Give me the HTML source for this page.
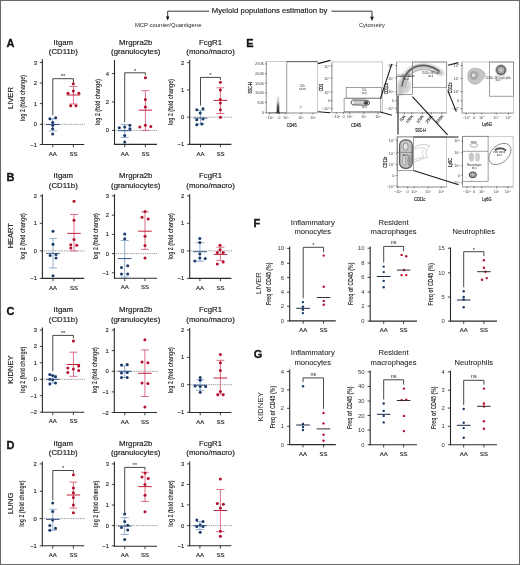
<!DOCTYPE html>
<html><head><meta charset="utf-8"><style>
html,body{margin:0;padding:0;background:#fff;}
svg{display:block;will-change:transform;font-family:"Liberation Sans", sans-serif;}
</style></head><body>
<svg width="520" height="565" viewBox="0 0 520 565">
<defs>
<filter id="b03" x="-50%" y="-50%" width="200%" height="200%"><feGaussianBlur stdDeviation="0.3"/></filter>
<filter id="b04" x="-50%" y="-50%" width="200%" height="200%"><feGaussianBlur stdDeviation="0.4"/></filter>
<filter id="b05" x="-50%" y="-50%" width="200%" height="200%"><feGaussianBlur stdDeviation="0.5"/></filter>
<filter id="b06" x="-50%" y="-50%" width="200%" height="200%"><feGaussianBlur stdDeviation="0.6"/></filter>
<filter id="b08" x="-50%" y="-50%" width="200%" height="200%"><feGaussianBlur stdDeviation="0.8"/></filter>
<filter id="b10" x="-50%" y="-50%" width="200%" height="200%"><feGaussianBlur stdDeviation="1.0"/></filter>
<linearGradient id="gstreak" x1="0" y1="0" x2="0" y2="1">
<stop offset="0" stop-color="#f0f0f0"/><stop offset="0.35" stop-color="#c8c8c8"/><stop offset="0.6" stop-color="#5a5a5a"/><stop offset="1" stop-color="#1e1e1e"/>
</linearGradient>
</defs>
<rect x="0" y="0" width="520" height="565" fill="#fff"/>
<line x1="42.40" y1="124.30" x2="85.20" y2="124.30" stroke="#6a6a6a" stroke-width="0.8" stroke-dasharray="0.9,0.9"/>
<line x1="42.40" y1="59.20" x2="42.40" y2="145.00" stroke="#2a2a2a" stroke-width="1.1"/>
<line x1="41.90" y1="144.50" x2="84.20" y2="144.50" stroke="#2a2a2a" stroke-width="1.1"/>
<line x1="39.80" y1="62.50" x2="42.40" y2="62.50" stroke="#2a2a2a" stroke-width="0.9"/>
<text x="36.90" y="64.50" font-size="5.8" text-anchor="end" fill="#222" font-weight="normal" stroke="#222" stroke-width="0.12">3</text>
<line x1="39.80" y1="83.00" x2="42.40" y2="83.00" stroke="#2a2a2a" stroke-width="0.9"/>
<text x="36.90" y="85.00" font-size="5.8" text-anchor="end" fill="#222" font-weight="normal" stroke="#222" stroke-width="0.12">2</text>
<line x1="39.80" y1="103.60" x2="42.40" y2="103.60" stroke="#2a2a2a" stroke-width="0.9"/>
<text x="36.90" y="105.60" font-size="5.8" text-anchor="end" fill="#222" font-weight="normal" stroke="#222" stroke-width="0.12">1</text>
<line x1="39.80" y1="124.30" x2="42.40" y2="124.30" stroke="#2a2a2a" stroke-width="0.9"/>
<text x="36.90" y="126.30" font-size="5.8" text-anchor="end" fill="#222" font-weight="normal" stroke="#222" stroke-width="0.12">0</text>
<line x1="39.80" y1="144.50" x2="42.40" y2="144.50" stroke="#2a2a2a" stroke-width="0.9"/>
<text x="36.90" y="146.50" font-size="5.8" text-anchor="end" fill="#222" font-weight="normal" stroke="#222" stroke-width="0.12">−1</text>
<line x1="52.80" y1="144.50" x2="52.80" y2="147.30" stroke="#2a2a2a" stroke-width="0.9"/>
<text x="52.80" y="155.60" font-size="6.0" text-anchor="middle" fill="#222" font-weight="normal" stroke="#222" stroke-width="0.15">AA</text>
<line x1="73.40" y1="144.50" x2="73.40" y2="147.30" stroke="#2a2a2a" stroke-width="0.9"/>
<text x="73.40" y="155.60" font-size="6.0" text-anchor="middle" fill="#222" font-weight="normal" stroke="#222" stroke-width="0.15">SS</text>
<line x1="52.80" y1="118.80" x2="52.80" y2="130.90" stroke="#88a5cb" stroke-width="0.9"/>
<line x1="48.80" y1="118.80" x2="56.80" y2="118.80" stroke="#88a5cb" stroke-width="0.9"/>
<line x1="48.80" y1="130.90" x2="56.80" y2="130.90" stroke="#88a5cb" stroke-width="0.9"/>
<circle cx="49.90" cy="118.80" r="1.5" fill="#1a3966"/>
<circle cx="55.70" cy="117.80" r="1.5" fill="#1a3966"/>
<circle cx="52.70" cy="122.60" r="1.5" fill="#1a3966"/>
<circle cx="52.70" cy="125.20" r="1.5" fill="#1a3966"/>
<circle cx="52.70" cy="128.80" r="1.5" fill="#1a3966"/>
<circle cx="52.70" cy="134.10" r="1.5" fill="#1a3966"/>
<line x1="46.00" y1="124.50" x2="59.60" y2="124.50" stroke="#37598a" stroke-width="1.0"/>
<line x1="73.40" y1="86.40" x2="73.40" y2="104.00" stroke="#d6607a" stroke-width="0.9"/>
<line x1="69.40" y1="86.40" x2="77.40" y2="86.40" stroke="#d6607a" stroke-width="0.9"/>
<line x1="69.40" y1="104.00" x2="77.40" y2="104.00" stroke="#d6607a" stroke-width="0.9"/>
<circle cx="73.30" cy="83.70" r="1.5" fill="#b2102e"/>
<circle cx="73.30" cy="91.10" r="1.5" fill="#b2102e"/>
<circle cx="68.00" cy="93.30" r="1.5" fill="#b2102e"/>
<circle cx="78.90" cy="93.30" r="1.5" fill="#b2102e"/>
<circle cx="70.70" cy="105.70" r="1.5" fill="#b2102e"/>
<circle cx="76.00" cy="105.70" r="1.5" fill="#b2102e"/>
<line x1="66.60" y1="95.00" x2="80.20" y2="95.00" stroke="#c0233d" stroke-width="1.0"/>
<polyline points="52.80,115.30 52.80,78.70 73.40,78.70 73.40,82.60" fill="none" stroke="#333" stroke-width="0.9"/>
<text x="63.10" y="78.40" font-size="6.0" text-anchor="middle" fill="#222" font-weight="normal">**</text>
<text x="63.30" y="44.50" font-size="7.8" text-anchor="middle" fill="#222" font-weight="normal" stroke="#222" stroke-width="0.18">Itgam</text>
<text x="63.30" y="54.30" font-size="7.8" text-anchor="middle" fill="#222" font-weight="normal" stroke="#222" stroke-width="0.18">(CD11b)</text>
<text transform="translate(24.50,98.20) rotate(-90)" x="0" y="0" font-size="6.5" text-anchor="middle" fill="#333" font-weight="bold" textLength="46.2" lengthAdjust="spacingAndGlyphs">log 2 (fold change)</text>
<line x1="114.50" y1="130.40" x2="158.00" y2="130.40" stroke="#6a6a6a" stroke-width="0.8" stroke-dasharray="0.9,0.9"/>
<line x1="114.50" y1="60.00" x2="114.50" y2="144.90" stroke="#2a2a2a" stroke-width="1.1"/>
<line x1="114.00" y1="144.40" x2="157.00" y2="144.40" stroke="#2a2a2a" stroke-width="1.1"/>
<line x1="111.90" y1="73.50" x2="114.50" y2="73.50" stroke="#2a2a2a" stroke-width="0.9"/>
<text x="109.00" y="75.50" font-size="5.8" text-anchor="end" fill="#222" font-weight="normal" stroke="#222" stroke-width="0.12">4</text>
<line x1="111.90" y1="102.00" x2="114.50" y2="102.00" stroke="#2a2a2a" stroke-width="0.9"/>
<text x="109.00" y="104.00" font-size="5.8" text-anchor="end" fill="#222" font-weight="normal" stroke="#222" stroke-width="0.12">2</text>
<line x1="111.90" y1="130.40" x2="114.50" y2="130.40" stroke="#2a2a2a" stroke-width="0.9"/>
<text x="109.00" y="132.40" font-size="5.8" text-anchor="end" fill="#222" font-weight="normal" stroke="#222" stroke-width="0.12">0</text>
<line x1="124.70" y1="144.40" x2="124.70" y2="147.20" stroke="#2a2a2a" stroke-width="0.9"/>
<text x="124.70" y="155.50" font-size="6.0" text-anchor="middle" fill="#222" font-weight="normal" stroke="#222" stroke-width="0.15">AA</text>
<line x1="145.40" y1="144.40" x2="145.40" y2="147.20" stroke="#2a2a2a" stroke-width="0.9"/>
<text x="145.40" y="155.50" font-size="6.0" text-anchor="middle" fill="#222" font-weight="normal" stroke="#222" stroke-width="0.15">SS</text>
<line x1="124.70" y1="124.50" x2="124.70" y2="137.40" stroke="#88a5cb" stroke-width="0.9"/>
<line x1="120.70" y1="124.50" x2="128.70" y2="124.50" stroke="#88a5cb" stroke-width="0.9"/>
<line x1="120.70" y1="137.40" x2="128.70" y2="137.40" stroke="#88a5cb" stroke-width="0.9"/>
<circle cx="119.30" cy="127.80" r="1.5" fill="#1a3966"/>
<circle cx="124.70" cy="127.00" r="1.5" fill="#1a3966"/>
<circle cx="129.90" cy="125.30" r="1.5" fill="#1a3966"/>
<circle cx="129.90" cy="128.70" r="1.5" fill="#1a3966"/>
<circle cx="124.70" cy="135.40" r="1.5" fill="#1a3966"/>
<circle cx="124.70" cy="142.10" r="1.5" fill="#1a3966"/>
<line x1="117.90" y1="130.70" x2="131.50" y2="130.70" stroke="#37598a" stroke-width="1.0"/>
<line x1="145.40" y1="90.70" x2="145.40" y2="130.40" stroke="#d6607a" stroke-width="0.9"/>
<line x1="141.40" y1="90.70" x2="149.40" y2="90.70" stroke="#d6607a" stroke-width="0.9"/>
<line x1="141.40" y1="130.40" x2="149.40" y2="130.40" stroke="#d6607a" stroke-width="0.9"/>
<circle cx="145.40" cy="77.70" r="1.5" fill="#b2102e"/>
<circle cx="145.40" cy="99.60" r="1.5" fill="#b2102e"/>
<circle cx="145.40" cy="107.10" r="1.5" fill="#b2102e"/>
<circle cx="139.80" cy="127.00" r="1.5" fill="#b2102e"/>
<circle cx="145.40" cy="125.30" r="1.5" fill="#b2102e"/>
<circle cx="150.80" cy="126.50" r="1.5" fill="#b2102e"/>
<line x1="138.60" y1="110.20" x2="152.20" y2="110.20" stroke="#c0233d" stroke-width="1.0"/>
<polyline points="124.70,122.30 124.70,72.80 145.40,72.80 145.40,75.50" fill="none" stroke="#333" stroke-width="0.9"/>
<text x="135.05" y="72.50" font-size="6.0" text-anchor="middle" fill="#222" font-weight="normal">*</text>
<text x="135.75" y="44.50" font-size="7.8" text-anchor="middle" fill="#222" font-weight="normal" stroke="#222" stroke-width="0.18">Mrgpra2b</text>
<text x="135.75" y="54.30" font-size="7.8" text-anchor="middle" fill="#222" font-weight="normal" stroke="#222" stroke-width="0.18">(granulocytes)</text>
<text transform="translate(100.40,102.20) rotate(-90)" x="0" y="0" font-size="6.5" text-anchor="middle" fill="#333" font-weight="bold" textLength="46.2" lengthAdjust="spacingAndGlyphs">log 2 (fold change)</text>
<line x1="189.70" y1="117.20" x2="232.40" y2="117.20" stroke="#6a6a6a" stroke-width="0.8" stroke-dasharray="0.9,0.9"/>
<line x1="189.70" y1="60.00" x2="189.70" y2="144.90" stroke="#2a2a2a" stroke-width="1.1"/>
<line x1="189.20" y1="144.40" x2="231.40" y2="144.40" stroke="#2a2a2a" stroke-width="1.1"/>
<line x1="187.10" y1="62.60" x2="189.70" y2="62.60" stroke="#2a2a2a" stroke-width="0.9"/>
<text x="184.20" y="64.60" font-size="5.8" text-anchor="end" fill="#222" font-weight="normal" stroke="#222" stroke-width="0.12">2</text>
<line x1="187.10" y1="89.90" x2="189.70" y2="89.90" stroke="#2a2a2a" stroke-width="0.9"/>
<text x="184.20" y="91.90" font-size="5.8" text-anchor="end" fill="#222" font-weight="normal" stroke="#222" stroke-width="0.12">1</text>
<line x1="187.10" y1="117.20" x2="189.70" y2="117.20" stroke="#2a2a2a" stroke-width="0.9"/>
<text x="184.20" y="119.20" font-size="5.8" text-anchor="end" fill="#222" font-weight="normal" stroke="#222" stroke-width="0.12">0</text>
<line x1="187.10" y1="144.40" x2="189.70" y2="144.40" stroke="#2a2a2a" stroke-width="0.9"/>
<text x="184.20" y="146.40" font-size="5.8" text-anchor="end" fill="#222" font-weight="normal" stroke="#222" stroke-width="0.12">−1</text>
<line x1="200.50" y1="144.40" x2="200.50" y2="147.20" stroke="#2a2a2a" stroke-width="0.9"/>
<text x="200.50" y="155.50" font-size="6.0" text-anchor="middle" fill="#222" font-weight="normal" stroke="#222" stroke-width="0.15">AA</text>
<line x1="220.40" y1="144.40" x2="220.40" y2="147.20" stroke="#2a2a2a" stroke-width="0.9"/>
<text x="220.40" y="155.50" font-size="6.0" text-anchor="middle" fill="#222" font-weight="normal" stroke="#222" stroke-width="0.15">SS</text>
<line x1="200.50" y1="110.50" x2="200.50" y2="124.00" stroke="#88a5cb" stroke-width="0.9"/>
<line x1="196.50" y1="110.50" x2="204.50" y2="110.50" stroke="#88a5cb" stroke-width="0.9"/>
<line x1="196.50" y1="124.00" x2="204.50" y2="124.00" stroke="#88a5cb" stroke-width="0.9"/>
<circle cx="196.80" cy="109.70" r="1.5" fill="#1a3966"/>
<circle cx="203.00" cy="108.80" r="1.5" fill="#1a3966"/>
<circle cx="200.20" cy="113.00" r="1.5" fill="#1a3966"/>
<circle cx="196.80" cy="119.80" r="1.5" fill="#1a3966"/>
<circle cx="203.00" cy="118.90" r="1.5" fill="#1a3966"/>
<circle cx="196.80" cy="124.80" r="1.5" fill="#1a3966"/>
<circle cx="201.90" cy="124.00" r="1.5" fill="#1a3966"/>
<line x1="193.70" y1="118.10" x2="207.30" y2="118.10" stroke="#37598a" stroke-width="1.0"/>
<line x1="220.40" y1="87.80" x2="220.40" y2="113.50" stroke="#d6607a" stroke-width="0.9"/>
<line x1="216.40" y1="87.80" x2="224.40" y2="87.80" stroke="#d6607a" stroke-width="0.9"/>
<line x1="216.40" y1="113.50" x2="224.40" y2="113.50" stroke="#d6607a" stroke-width="0.9"/>
<circle cx="220.40" cy="82.30" r="1.5" fill="#b2102e"/>
<circle cx="220.40" cy="90.00" r="1.5" fill="#b2102e"/>
<circle cx="220.40" cy="99.60" r="1.5" fill="#b2102e"/>
<circle cx="220.40" cy="103.00" r="1.5" fill="#b2102e"/>
<circle cx="220.40" cy="109.70" r="1.5" fill="#b2102e"/>
<circle cx="220.40" cy="117.20" r="1.5" fill="#b2102e"/>
<line x1="213.60" y1="100.40" x2="227.20" y2="100.40" stroke="#c0233d" stroke-width="1.0"/>
<polyline points="200.50,105.50 200.50,77.40 220.40,77.40 220.40,79.90" fill="none" stroke="#333" stroke-width="0.9"/>
<text x="210.45" y="77.10" font-size="6.0" text-anchor="middle" fill="#222" font-weight="normal">*</text>
<text x="210.55" y="44.50" font-size="7.8" text-anchor="middle" fill="#222" font-weight="normal" stroke="#222" stroke-width="0.18">FcgR1</text>
<text x="210.55" y="54.30" font-size="7.8" text-anchor="middle" fill="#222" font-weight="normal" stroke="#222" stroke-width="0.18">(mono/macro)</text>
<text transform="translate(172.80,102.20) rotate(-90)" x="0" y="0" font-size="6.5" text-anchor="middle" fill="#333" font-weight="bold" textLength="46.2" lengthAdjust="spacingAndGlyphs">log 2 (fold change)</text>
<line x1="42.40" y1="250.90" x2="85.20" y2="250.90" stroke="#6a6a6a" stroke-width="0.8" stroke-dasharray="0.9,0.9"/>
<line x1="42.40" y1="194.20" x2="42.40" y2="278.90" stroke="#2a2a2a" stroke-width="1.1"/>
<line x1="41.90" y1="278.40" x2="84.20" y2="278.40" stroke="#2a2a2a" stroke-width="1.1"/>
<line x1="39.80" y1="195.90" x2="42.40" y2="195.90" stroke="#2a2a2a" stroke-width="0.9"/>
<text x="36.90" y="197.90" font-size="5.8" text-anchor="end" fill="#222" font-weight="normal" stroke="#222" stroke-width="0.12">2</text>
<line x1="39.80" y1="223.30" x2="42.40" y2="223.30" stroke="#2a2a2a" stroke-width="0.9"/>
<text x="36.90" y="225.30" font-size="5.8" text-anchor="end" fill="#222" font-weight="normal" stroke="#222" stroke-width="0.12">1</text>
<line x1="39.80" y1="250.90" x2="42.40" y2="250.90" stroke="#2a2a2a" stroke-width="0.9"/>
<text x="36.90" y="252.90" font-size="5.8" text-anchor="end" fill="#222" font-weight="normal" stroke="#222" stroke-width="0.12">0</text>
<line x1="39.80" y1="278.40" x2="42.40" y2="278.40" stroke="#2a2a2a" stroke-width="0.9"/>
<text x="36.90" y="280.40" font-size="5.8" text-anchor="end" fill="#222" font-weight="normal" stroke="#222" stroke-width="0.12">−1</text>
<line x1="53.00" y1="278.40" x2="53.00" y2="281.20" stroke="#2a2a2a" stroke-width="0.9"/>
<text x="53.00" y="289.50" font-size="6.0" text-anchor="middle" fill="#222" font-weight="normal" stroke="#222" stroke-width="0.15">AA</text>
<line x1="74.00" y1="278.40" x2="74.00" y2="281.20" stroke="#2a2a2a" stroke-width="0.9"/>
<text x="74.00" y="289.50" font-size="6.0" text-anchor="middle" fill="#222" font-weight="normal" stroke="#222" stroke-width="0.15">SS</text>
<line x1="53.00" y1="238.40" x2="53.00" y2="267.90" stroke="#88a5cb" stroke-width="0.9"/>
<line x1="49.00" y1="238.40" x2="57.00" y2="238.40" stroke="#88a5cb" stroke-width="0.9"/>
<line x1="49.00" y1="267.90" x2="57.00" y2="267.90" stroke="#88a5cb" stroke-width="0.9"/>
<circle cx="53.00" cy="231.20" r="1.5" fill="#1a3966"/>
<circle cx="53.00" cy="244.20" r="1.5" fill="#1a3966"/>
<circle cx="50.10" cy="255.60" r="1.5" fill="#1a3966"/>
<circle cx="56.00" cy="254.40" r="1.5" fill="#1a3966"/>
<circle cx="56.00" cy="258.10" r="1.5" fill="#1a3966"/>
<circle cx="53.00" cy="275.80" r="1.5" fill="#1a3966"/>
<line x1="46.20" y1="253.40" x2="59.80" y2="253.40" stroke="#37598a" stroke-width="1.0"/>
<line x1="74.00" y1="214.40" x2="74.00" y2="250.90" stroke="#d6607a" stroke-width="0.9"/>
<line x1="70.00" y1="214.40" x2="78.00" y2="214.40" stroke="#d6607a" stroke-width="0.9"/>
<line x1="70.00" y1="250.90" x2="78.00" y2="250.90" stroke="#d6607a" stroke-width="0.9"/>
<circle cx="74.00" cy="201.30" r="1.5" fill="#b2102e"/>
<circle cx="74.00" cy="220.30" r="1.5" fill="#b2102e"/>
<circle cx="74.00" cy="239.60" r="1.5" fill="#b2102e"/>
<circle cx="70.80" cy="244.70" r="1.5" fill="#b2102e"/>
<circle cx="76.70" cy="245.20" r="1.5" fill="#b2102e"/>
<circle cx="70.80" cy="248.00" r="1.5" fill="#b2102e"/>
<line x1="67.20" y1="233.40" x2="80.80" y2="233.40" stroke="#c0233d" stroke-width="1.0"/>
<text x="63.30" y="178.30" font-size="7.8" text-anchor="middle" fill="#222" font-weight="normal" stroke="#222" stroke-width="0.18">Itgam</text>
<text x="63.30" y="188.10" font-size="7.8" text-anchor="middle" fill="#222" font-weight="normal" stroke="#222" stroke-width="0.18">(CD11b)</text>
<text transform="translate(24.50,236.30) rotate(-90)" x="0" y="0" font-size="6.5" text-anchor="middle" fill="#333" font-weight="bold" textLength="46.2" lengthAdjust="spacingAndGlyphs">log 2 (fold change)</text>
<line x1="114.50" y1="253.60" x2="158.00" y2="253.60" stroke="#6a6a6a" stroke-width="0.8" stroke-dasharray="0.9,0.9"/>
<line x1="114.50" y1="194.20" x2="114.50" y2="278.80" stroke="#2a2a2a" stroke-width="1.1"/>
<line x1="114.00" y1="278.30" x2="157.00" y2="278.30" stroke="#2a2a2a" stroke-width="1.1"/>
<line x1="111.90" y1="195.90" x2="114.50" y2="195.90" stroke="#2a2a2a" stroke-width="0.9"/>
<text x="109.00" y="197.90" font-size="5.8" text-anchor="end" fill="#222" font-weight="normal" stroke="#222" stroke-width="0.12">3</text>
<line x1="111.90" y1="215.20" x2="114.50" y2="215.20" stroke="#2a2a2a" stroke-width="0.9"/>
<text x="109.00" y="217.20" font-size="5.8" text-anchor="end" fill="#222" font-weight="normal" stroke="#222" stroke-width="0.12">2</text>
<line x1="111.90" y1="234.40" x2="114.50" y2="234.40" stroke="#2a2a2a" stroke-width="0.9"/>
<text x="109.00" y="236.40" font-size="5.8" text-anchor="end" fill="#222" font-weight="normal" stroke="#222" stroke-width="0.12">1</text>
<line x1="111.90" y1="253.60" x2="114.50" y2="253.60" stroke="#2a2a2a" stroke-width="0.9"/>
<text x="109.00" y="255.60" font-size="5.8" text-anchor="end" fill="#222" font-weight="normal" stroke="#222" stroke-width="0.12">0</text>
<line x1="111.90" y1="272.80" x2="114.50" y2="272.80" stroke="#2a2a2a" stroke-width="0.9"/>
<text x="109.00" y="274.80" font-size="5.8" text-anchor="end" fill="#222" font-weight="normal" stroke="#222" stroke-width="0.12">−1</text>
<line x1="124.70" y1="278.30" x2="124.70" y2="281.10" stroke="#2a2a2a" stroke-width="0.9"/>
<text x="124.70" y="289.40" font-size="6.0" text-anchor="middle" fill="#222" font-weight="normal" stroke="#222" stroke-width="0.15">AA</text>
<line x1="145.00" y1="278.30" x2="145.00" y2="281.10" stroke="#2a2a2a" stroke-width="0.9"/>
<text x="145.00" y="289.40" font-size="6.0" text-anchor="middle" fill="#222" font-weight="normal" stroke="#222" stroke-width="0.15">SS</text>
<line x1="124.70" y1="240.50" x2="124.70" y2="277.10" stroke="#88a5cb" stroke-width="0.9"/>
<line x1="120.70" y1="240.50" x2="128.70" y2="240.50" stroke="#88a5cb" stroke-width="0.9"/>
<line x1="120.70" y1="277.10" x2="128.70" y2="277.10" stroke="#88a5cb" stroke-width="0.9"/>
<circle cx="124.70" cy="234.10" r="1.5" fill="#1a3966"/>
<circle cx="124.70" cy="238.80" r="1.5" fill="#1a3966"/>
<circle cx="121.50" cy="267.40" r="1.5" fill="#1a3966"/>
<circle cx="127.70" cy="265.70" r="1.5" fill="#1a3966"/>
<circle cx="121.50" cy="274.10" r="1.5" fill="#1a3966"/>
<circle cx="127.70" cy="274.10" r="1.5" fill="#1a3966"/>
<line x1="117.90" y1="258.60" x2="131.50" y2="258.60" stroke="#37598a" stroke-width="1.0"/>
<line x1="145.00" y1="211.90" x2="145.00" y2="249.40" stroke="#d6607a" stroke-width="0.9"/>
<line x1="141.00" y1="211.90" x2="149.00" y2="211.90" stroke="#d6607a" stroke-width="0.9"/>
<line x1="141.00" y1="249.40" x2="149.00" y2="249.40" stroke="#d6607a" stroke-width="0.9"/>
<circle cx="145.00" cy="211.40" r="1.5" fill="#b2102e"/>
<circle cx="142.00" cy="217.20" r="1.5" fill="#b2102e"/>
<circle cx="148.20" cy="218.90" r="1.5" fill="#b2102e"/>
<circle cx="145.00" cy="236.30" r="1.5" fill="#b2102e"/>
<circle cx="145.00" cy="245.50" r="1.5" fill="#b2102e"/>
<circle cx="145.00" cy="258.10" r="1.5" fill="#b2102e"/>
<line x1="138.20" y1="231.20" x2="151.80" y2="231.20" stroke="#c0233d" stroke-width="1.0"/>
<text x="135.75" y="178.30" font-size="7.8" text-anchor="middle" fill="#222" font-weight="normal" stroke="#222" stroke-width="0.18">Mrgpra2b</text>
<text x="135.75" y="188.10" font-size="7.8" text-anchor="middle" fill="#222" font-weight="normal" stroke="#222" stroke-width="0.18">(granulocytes)</text>
<text transform="translate(97.60,236.25) rotate(-90)" x="0" y="0" font-size="6.5" text-anchor="middle" fill="#333" font-weight="bold" textLength="46.2" lengthAdjust="spacingAndGlyphs">log 2 (fold change)</text>
<line x1="189.70" y1="250.90" x2="232.40" y2="250.90" stroke="#6a6a6a" stroke-width="0.8" stroke-dasharray="0.9,0.9"/>
<line x1="189.70" y1="194.20" x2="189.70" y2="278.90" stroke="#2a2a2a" stroke-width="1.1"/>
<line x1="189.20" y1="278.40" x2="231.40" y2="278.40" stroke="#2a2a2a" stroke-width="1.1"/>
<line x1="187.10" y1="195.90" x2="189.70" y2="195.90" stroke="#2a2a2a" stroke-width="0.9"/>
<text x="184.20" y="197.90" font-size="5.8" text-anchor="end" fill="#222" font-weight="normal" stroke="#222" stroke-width="0.12">2</text>
<line x1="187.10" y1="223.30" x2="189.70" y2="223.30" stroke="#2a2a2a" stroke-width="0.9"/>
<text x="184.20" y="225.30" font-size="5.8" text-anchor="end" fill="#222" font-weight="normal" stroke="#222" stroke-width="0.12">1</text>
<line x1="187.10" y1="250.90" x2="189.70" y2="250.90" stroke="#2a2a2a" stroke-width="0.9"/>
<text x="184.20" y="252.90" font-size="5.8" text-anchor="end" fill="#222" font-weight="normal" stroke="#222" stroke-width="0.12">0</text>
<line x1="187.10" y1="278.40" x2="189.70" y2="278.40" stroke="#2a2a2a" stroke-width="0.9"/>
<text x="184.20" y="280.40" font-size="5.8" text-anchor="end" fill="#222" font-weight="normal" stroke="#222" stroke-width="0.12">−1</text>
<line x1="199.90" y1="278.40" x2="199.90" y2="281.20" stroke="#2a2a2a" stroke-width="0.9"/>
<text x="199.90" y="289.50" font-size="6.0" text-anchor="middle" fill="#222" font-weight="normal" stroke="#222" stroke-width="0.15">AA</text>
<line x1="220.40" y1="278.40" x2="220.40" y2="281.20" stroke="#2a2a2a" stroke-width="0.9"/>
<text x="220.40" y="289.50" font-size="6.0" text-anchor="middle" fill="#222" font-weight="normal" stroke="#222" stroke-width="0.15">SS</text>
<line x1="199.90" y1="242.60" x2="199.90" y2="261.20" stroke="#88a5cb" stroke-width="0.9"/>
<line x1="195.90" y1="242.60" x2="203.90" y2="242.60" stroke="#88a5cb" stroke-width="0.9"/>
<line x1="195.90" y1="261.20" x2="203.90" y2="261.20" stroke="#88a5cb" stroke-width="0.9"/>
<circle cx="199.80" cy="238.40" r="1.5" fill="#1a3966"/>
<circle cx="199.80" cy="242.50" r="1.5" fill="#1a3966"/>
<circle cx="199.80" cy="253.90" r="1.5" fill="#1a3966"/>
<circle cx="194.80" cy="261.00" r="1.5" fill="#1a3966"/>
<circle cx="199.80" cy="258.10" r="1.5" fill="#1a3966"/>
<circle cx="205.20" cy="258.50" r="1.5" fill="#1a3966"/>
<line x1="193.10" y1="251.70" x2="206.70" y2="251.70" stroke="#37598a" stroke-width="1.0"/>
<line x1="220.40" y1="247.20" x2="220.40" y2="260.60" stroke="#d6607a" stroke-width="0.9"/>
<line x1="216.40" y1="247.20" x2="224.40" y2="247.20" stroke="#d6607a" stroke-width="0.9"/>
<line x1="216.40" y1="260.60" x2="224.40" y2="260.60" stroke="#d6607a" stroke-width="0.9"/>
<circle cx="220.00" cy="245.20" r="1.5" fill="#b2102e"/>
<circle cx="217.30" cy="252.60" r="1.5" fill="#b2102e"/>
<circle cx="223.20" cy="252.60" r="1.5" fill="#b2102e"/>
<circle cx="220.00" cy="249.70" r="1.5" fill="#b2102e"/>
<circle cx="217.30" cy="264.00" r="1.5" fill="#b2102e"/>
<circle cx="223.20" cy="262.00" r="1.5" fill="#b2102e"/>
<line x1="213.60" y1="254.40" x2="227.20" y2="254.40" stroke="#c0233d" stroke-width="1.0"/>
<text x="210.55" y="178.30" font-size="7.8" text-anchor="middle" fill="#222" font-weight="normal" stroke="#222" stroke-width="0.18">FcgR1</text>
<text x="210.55" y="188.10" font-size="7.8" text-anchor="middle" fill="#222" font-weight="normal" stroke="#222" stroke-width="0.18">(mono/macro)</text>
<text transform="translate(172.80,236.30) rotate(-90)" x="0" y="0" font-size="6.5" text-anchor="middle" fill="#333" font-weight="bold" textLength="46.2" lengthAdjust="spacingAndGlyphs">log 2 (fold change)</text>
<line x1="42.40" y1="379.30" x2="85.20" y2="379.30" stroke="#6a6a6a" stroke-width="0.8" stroke-dasharray="0.9,0.9"/>
<line x1="42.40" y1="327.50" x2="42.40" y2="412.70" stroke="#2a2a2a" stroke-width="1.1"/>
<line x1="41.90" y1="412.20" x2="84.20" y2="412.20" stroke="#2a2a2a" stroke-width="1.1"/>
<line x1="39.80" y1="330.00" x2="42.40" y2="330.00" stroke="#2a2a2a" stroke-width="0.9"/>
<text x="36.90" y="332.00" font-size="5.8" text-anchor="end" fill="#222" font-weight="normal" stroke="#222" stroke-width="0.12">3</text>
<line x1="39.80" y1="346.40" x2="42.40" y2="346.40" stroke="#2a2a2a" stroke-width="0.9"/>
<text x="36.90" y="348.40" font-size="5.8" text-anchor="end" fill="#222" font-weight="normal" stroke="#222" stroke-width="0.12">2</text>
<line x1="39.80" y1="362.80" x2="42.40" y2="362.80" stroke="#2a2a2a" stroke-width="0.9"/>
<text x="36.90" y="364.80" font-size="5.8" text-anchor="end" fill="#222" font-weight="normal" stroke="#222" stroke-width="0.12">1</text>
<line x1="39.80" y1="379.30" x2="42.40" y2="379.30" stroke="#2a2a2a" stroke-width="0.9"/>
<text x="36.90" y="381.30" font-size="5.8" text-anchor="end" fill="#222" font-weight="normal" stroke="#222" stroke-width="0.12">0</text>
<line x1="39.80" y1="395.70" x2="42.40" y2="395.70" stroke="#2a2a2a" stroke-width="0.9"/>
<text x="36.90" y="397.70" font-size="5.8" text-anchor="end" fill="#222" font-weight="normal" stroke="#222" stroke-width="0.12">−1</text>
<line x1="39.80" y1="412.20" x2="42.40" y2="412.20" stroke="#2a2a2a" stroke-width="0.9"/>
<text x="36.90" y="414.20" font-size="5.8" text-anchor="end" fill="#222" font-weight="normal" stroke="#222" stroke-width="0.12">−2</text>
<line x1="52.80" y1="412.20" x2="52.80" y2="415.00" stroke="#2a2a2a" stroke-width="0.9"/>
<text x="52.80" y="423.30" font-size="6.0" text-anchor="middle" fill="#222" font-weight="normal" stroke="#222" stroke-width="0.15">AA</text>
<line x1="73.40" y1="412.20" x2="73.40" y2="415.00" stroke="#2a2a2a" stroke-width="0.9"/>
<text x="73.40" y="423.30" font-size="6.0" text-anchor="middle" fill="#222" font-weight="normal" stroke="#222" stroke-width="0.15">SS</text>
<line x1="52.80" y1="375.50" x2="52.80" y2="383.00" stroke="#88a5cb" stroke-width="0.9"/>
<line x1="48.80" y1="375.50" x2="56.80" y2="375.50" stroke="#88a5cb" stroke-width="0.9"/>
<line x1="48.80" y1="383.00" x2="56.80" y2="383.00" stroke="#88a5cb" stroke-width="0.9"/>
<circle cx="49.80" cy="374.60" r="1.5" fill="#1a3966"/>
<circle cx="52.70" cy="375.50" r="1.5" fill="#1a3966"/>
<circle cx="55.50" cy="376.80" r="1.5" fill="#1a3966"/>
<circle cx="49.80" cy="379.20" r="1.5" fill="#1a3966"/>
<circle cx="52.70" cy="379.70" r="1.5" fill="#1a3966"/>
<circle cx="49.80" cy="383.90" r="1.5" fill="#1a3966"/>
<circle cx="55.50" cy="383.00" r="1.5" fill="#1a3966"/>
<line x1="46.00" y1="379.30" x2="59.60" y2="379.30" stroke="#37598a" stroke-width="1.0"/>
<line x1="73.40" y1="352.20" x2="73.40" y2="376.30" stroke="#d6607a" stroke-width="0.9"/>
<line x1="69.40" y1="352.20" x2="77.40" y2="352.20" stroke="#d6607a" stroke-width="0.9"/>
<line x1="69.40" y1="376.30" x2="77.40" y2="376.30" stroke="#d6607a" stroke-width="0.9"/>
<circle cx="73.40" cy="341.00" r="1.5" fill="#b2102e"/>
<circle cx="67.80" cy="367.90" r="1.5" fill="#b2102e"/>
<circle cx="73.40" cy="369.10" r="1.5" fill="#b2102e"/>
<circle cx="78.70" cy="365.90" r="1.5" fill="#b2102e"/>
<circle cx="67.80" cy="372.40" r="1.5" fill="#b2102e"/>
<circle cx="78.70" cy="370.40" r="1.5" fill="#b2102e"/>
<line x1="66.60" y1="364.50" x2="80.20" y2="364.50" stroke="#c0233d" stroke-width="1.0"/>
<polyline points="52.80,371.30 52.80,335.40 73.40,335.40 73.40,338.50" fill="none" stroke="#333" stroke-width="0.9"/>
<text x="63.10" y="335.10" font-size="6.0" text-anchor="middle" fill="#222" font-weight="normal">**</text>
<text x="63.30" y="312.00" font-size="7.8" text-anchor="middle" fill="#222" font-weight="normal" stroke="#222" stroke-width="0.18">Itgam</text>
<text x="63.30" y="321.90" font-size="7.8" text-anchor="middle" fill="#222" font-weight="normal" stroke="#222" stroke-width="0.18">(CD11b)</text>
<text transform="translate(24.50,369.85) rotate(-90)" x="0" y="0" font-size="6.5" text-anchor="middle" fill="#333" font-weight="bold" textLength="46.2" lengthAdjust="spacingAndGlyphs">log 2 (fold change)</text>
<line x1="114.30" y1="371.30" x2="158.00" y2="371.30" stroke="#6a6a6a" stroke-width="0.8" stroke-dasharray="0.9,0.9"/>
<line x1="114.30" y1="328.00" x2="114.30" y2="413.00" stroke="#2a2a2a" stroke-width="1.1"/>
<line x1="113.80" y1="412.50" x2="157.00" y2="412.50" stroke="#2a2a2a" stroke-width="1.1"/>
<line x1="111.70" y1="330.00" x2="114.30" y2="330.00" stroke="#2a2a2a" stroke-width="0.9"/>
<text x="108.80" y="332.00" font-size="5.8" text-anchor="end" fill="#222" font-weight="normal" stroke="#222" stroke-width="0.12">2</text>
<line x1="111.70" y1="350.60" x2="114.30" y2="350.60" stroke="#2a2a2a" stroke-width="0.9"/>
<text x="108.80" y="352.60" font-size="5.8" text-anchor="end" fill="#222" font-weight="normal" stroke="#222" stroke-width="0.12">1</text>
<line x1="111.70" y1="371.30" x2="114.30" y2="371.30" stroke="#2a2a2a" stroke-width="0.9"/>
<text x="108.80" y="373.30" font-size="5.8" text-anchor="end" fill="#222" font-weight="normal" stroke="#222" stroke-width="0.12">0</text>
<line x1="111.70" y1="391.90" x2="114.30" y2="391.90" stroke="#2a2a2a" stroke-width="0.9"/>
<text x="108.80" y="393.90" font-size="5.8" text-anchor="end" fill="#222" font-weight="normal" stroke="#222" stroke-width="0.12">−1</text>
<line x1="111.70" y1="412.50" x2="114.30" y2="412.50" stroke="#2a2a2a" stroke-width="0.9"/>
<text x="108.80" y="414.50" font-size="5.8" text-anchor="end" fill="#222" font-weight="normal" stroke="#222" stroke-width="0.12">−2</text>
<line x1="124.70" y1="412.50" x2="124.70" y2="415.30" stroke="#2a2a2a" stroke-width="0.9"/>
<text x="124.70" y="423.60" font-size="6.0" text-anchor="middle" fill="#222" font-weight="normal" stroke="#222" stroke-width="0.15">AA</text>
<line x1="144.90" y1="412.50" x2="144.90" y2="415.30" stroke="#2a2a2a" stroke-width="0.9"/>
<text x="144.90" y="423.60" font-size="6.0" text-anchor="middle" fill="#222" font-weight="normal" stroke="#222" stroke-width="0.15">SS</text>
<line x1="124.70" y1="365.90" x2="124.70" y2="377.50" stroke="#88a5cb" stroke-width="0.9"/>
<line x1="120.70" y1="365.90" x2="128.70" y2="365.90" stroke="#88a5cb" stroke-width="0.9"/>
<line x1="120.70" y1="377.50" x2="128.70" y2="377.50" stroke="#88a5cb" stroke-width="0.9"/>
<circle cx="121.50" cy="365.00" r="1.5" fill="#1a3966"/>
<circle cx="127.20" cy="364.50" r="1.5" fill="#1a3966"/>
<circle cx="121.50" cy="373.00" r="1.5" fill="#1a3966"/>
<circle cx="127.20" cy="372.60" r="1.5" fill="#1a3966"/>
<circle cx="121.50" cy="377.50" r="1.5" fill="#1a3966"/>
<circle cx="127.20" cy="377.50" r="1.5" fill="#1a3966"/>
<line x1="117.90" y1="371.30" x2="131.50" y2="371.30" stroke="#37598a" stroke-width="1.0"/>
<line x1="144.90" y1="349.90" x2="144.90" y2="396.50" stroke="#d6607a" stroke-width="0.9"/>
<line x1="140.90" y1="349.90" x2="148.90" y2="349.90" stroke="#d6607a" stroke-width="0.9"/>
<line x1="140.90" y1="396.50" x2="148.90" y2="396.50" stroke="#d6607a" stroke-width="0.9"/>
<circle cx="144.90" cy="339.80" r="1.5" fill="#b2102e"/>
<circle cx="142.00" cy="362.00" r="1.5" fill="#b2102e"/>
<circle cx="147.90" cy="362.80" r="1.5" fill="#b2102e"/>
<circle cx="142.00" cy="383.00" r="1.5" fill="#b2102e"/>
<circle cx="147.90" cy="383.50" r="1.5" fill="#b2102e"/>
<circle cx="144.90" cy="407.10" r="1.5" fill="#b2102e"/>
<line x1="138.10" y1="373.30" x2="151.70" y2="373.30" stroke="#c0233d" stroke-width="1.0"/>
<text x="135.65" y="312.00" font-size="7.8" text-anchor="middle" fill="#222" font-weight="normal" stroke="#222" stroke-width="0.18">Mrgpra2b</text>
<text x="135.65" y="321.90" font-size="7.8" text-anchor="middle" fill="#222" font-weight="normal" stroke="#222" stroke-width="0.18">(granulocytes)</text>
<text transform="translate(97.40,370.25) rotate(-90)" x="0" y="0" font-size="6.5" text-anchor="middle" fill="#333" font-weight="bold" textLength="46.2" lengthAdjust="spacingAndGlyphs">log 2 (fold change)</text>
<line x1="189.70" y1="384.70" x2="232.40" y2="384.70" stroke="#6a6a6a" stroke-width="0.8" stroke-dasharray="0.9,0.9"/>
<line x1="189.70" y1="328.00" x2="189.70" y2="413.00" stroke="#2a2a2a" stroke-width="1.1"/>
<line x1="189.20" y1="412.50" x2="231.40" y2="412.50" stroke="#2a2a2a" stroke-width="1.1"/>
<line x1="187.10" y1="330.00" x2="189.70" y2="330.00" stroke="#2a2a2a" stroke-width="0.9"/>
<text x="184.20" y="332.00" font-size="5.8" text-anchor="end" fill="#222" font-weight="normal" stroke="#222" stroke-width="0.12">2</text>
<line x1="187.10" y1="357.40" x2="189.70" y2="357.40" stroke="#2a2a2a" stroke-width="0.9"/>
<text x="184.20" y="359.40" font-size="5.8" text-anchor="end" fill="#222" font-weight="normal" stroke="#222" stroke-width="0.12">1</text>
<line x1="187.10" y1="384.70" x2="189.70" y2="384.70" stroke="#2a2a2a" stroke-width="0.9"/>
<text x="184.20" y="386.70" font-size="5.8" text-anchor="end" fill="#222" font-weight="normal" stroke="#222" stroke-width="0.12">0</text>
<line x1="187.10" y1="412.20" x2="189.70" y2="412.20" stroke="#2a2a2a" stroke-width="0.9"/>
<text x="184.20" y="414.20" font-size="5.8" text-anchor="end" fill="#222" font-weight="normal" stroke="#222" stroke-width="0.12">−1</text>
<line x1="200.20" y1="412.50" x2="200.20" y2="415.30" stroke="#2a2a2a" stroke-width="0.9"/>
<text x="200.20" y="423.60" font-size="6.0" text-anchor="middle" fill="#222" font-weight="normal" stroke="#222" stroke-width="0.15">AA</text>
<line x1="220.40" y1="412.50" x2="220.40" y2="415.30" stroke="#2a2a2a" stroke-width="0.9"/>
<text x="220.40" y="423.60" font-size="6.0" text-anchor="middle" fill="#222" font-weight="normal" stroke="#222" stroke-width="0.15">SS</text>
<line x1="200.20" y1="379.70" x2="200.20" y2="390.30" stroke="#88a5cb" stroke-width="0.9"/>
<line x1="196.20" y1="379.70" x2="204.20" y2="379.70" stroke="#88a5cb" stroke-width="0.9"/>
<line x1="196.20" y1="390.30" x2="204.20" y2="390.30" stroke="#88a5cb" stroke-width="0.9"/>
<circle cx="200.20" cy="377.50" r="1.5" fill="#1a3966"/>
<circle cx="200.20" cy="380.20" r="1.5" fill="#1a3966"/>
<circle cx="195.10" cy="386.10" r="1.5" fill="#1a3966"/>
<circle cx="200.20" cy="386.40" r="1.5" fill="#1a3966"/>
<circle cx="205.60" cy="386.40" r="1.5" fill="#1a3966"/>
<circle cx="200.20" cy="392.30" r="1.5" fill="#1a3966"/>
<line x1="193.40" y1="385.20" x2="207.00" y2="385.20" stroke="#37598a" stroke-width="1.0"/>
<line x1="220.40" y1="360.30" x2="220.40" y2="394.00" stroke="#d6607a" stroke-width="0.9"/>
<line x1="216.40" y1="360.30" x2="224.40" y2="360.30" stroke="#d6607a" stroke-width="0.9"/>
<line x1="216.40" y1="394.00" x2="224.40" y2="394.00" stroke="#d6607a" stroke-width="0.9"/>
<circle cx="220.40" cy="354.40" r="1.5" fill="#b2102e"/>
<circle cx="220.40" cy="362.80" r="1.5" fill="#b2102e"/>
<circle cx="220.40" cy="370.40" r="1.5" fill="#b2102e"/>
<circle cx="220.40" cy="391.40" r="1.5" fill="#b2102e"/>
<circle cx="217.80" cy="394.80" r="1.5" fill="#b2102e"/>
<circle cx="223.20" cy="394.80" r="1.5" fill="#b2102e"/>
<line x1="213.60" y1="378.00" x2="227.20" y2="378.00" stroke="#c0233d" stroke-width="1.0"/>
<text x="210.55" y="312.00" font-size="7.8" text-anchor="middle" fill="#222" font-weight="normal" stroke="#222" stroke-width="0.18">FcgR1</text>
<text x="210.55" y="321.90" font-size="7.8" text-anchor="middle" fill="#222" font-weight="normal" stroke="#222" stroke-width="0.18">(mono/macro)</text>
<text transform="translate(172.80,370.25) rotate(-90)" x="0" y="0" font-size="6.5" text-anchor="middle" fill="#333" font-weight="bold" textLength="46.2" lengthAdjust="spacingAndGlyphs">log 2 (fold change)</text>
<line x1="42.30" y1="518.60" x2="85.20" y2="518.60" stroke="#6a6a6a" stroke-width="0.8" stroke-dasharray="0.9,0.9"/>
<line x1="42.30" y1="461.60" x2="42.30" y2="546.30" stroke="#2a2a2a" stroke-width="1.1"/>
<line x1="41.80" y1="545.80" x2="84.20" y2="545.80" stroke="#2a2a2a" stroke-width="1.1"/>
<line x1="39.70" y1="463.90" x2="42.30" y2="463.90" stroke="#2a2a2a" stroke-width="0.9"/>
<text x="36.80" y="465.90" font-size="5.8" text-anchor="end" fill="#222" font-weight="normal" stroke="#222" stroke-width="0.12">2</text>
<line x1="39.70" y1="491.30" x2="42.30" y2="491.30" stroke="#2a2a2a" stroke-width="0.9"/>
<text x="36.80" y="493.30" font-size="5.8" text-anchor="end" fill="#222" font-weight="normal" stroke="#222" stroke-width="0.12">1</text>
<line x1="39.70" y1="518.60" x2="42.30" y2="518.60" stroke="#2a2a2a" stroke-width="0.9"/>
<text x="36.80" y="520.60" font-size="5.8" text-anchor="end" fill="#222" font-weight="normal" stroke="#222" stroke-width="0.12">0</text>
<line x1="39.70" y1="545.80" x2="42.30" y2="545.80" stroke="#2a2a2a" stroke-width="0.9"/>
<text x="36.80" y="547.80" font-size="5.8" text-anchor="end" fill="#222" font-weight="normal" stroke="#222" stroke-width="0.12">−1</text>
<line x1="52.80" y1="545.80" x2="52.80" y2="548.60" stroke="#2a2a2a" stroke-width="0.9"/>
<text x="52.80" y="556.90" font-size="6.0" text-anchor="middle" fill="#222" font-weight="normal" stroke="#222" stroke-width="0.15">AA</text>
<line x1="73.40" y1="545.80" x2="73.40" y2="548.60" stroke="#2a2a2a" stroke-width="0.9"/>
<text x="73.40" y="556.90" font-size="6.0" text-anchor="middle" fill="#222" font-weight="normal" stroke="#222" stroke-width="0.15">SS</text>
<line x1="52.80" y1="509.30" x2="52.80" y2="530.30" stroke="#88a5cb" stroke-width="0.9"/>
<line x1="48.80" y1="509.30" x2="56.80" y2="509.30" stroke="#88a5cb" stroke-width="0.9"/>
<line x1="48.80" y1="530.30" x2="56.80" y2="530.30" stroke="#88a5cb" stroke-width="0.9"/>
<circle cx="52.70" cy="503.10" r="1.5" fill="#1a3966"/>
<circle cx="52.70" cy="511.50" r="1.5" fill="#1a3966"/>
<circle cx="52.70" cy="519.90" r="1.5" fill="#1a3966"/>
<circle cx="49.80" cy="525.60" r="1.5" fill="#1a3966"/>
<circle cx="55.50" cy="528.30" r="1.5" fill="#1a3966"/>
<circle cx="49.80" cy="530.30" r="1.5" fill="#1a3966"/>
<line x1="46.00" y1="519.40" x2="59.60" y2="519.40" stroke="#37598a" stroke-width="1.0"/>
<line x1="73.40" y1="482.10" x2="73.40" y2="508.10" stroke="#d6607a" stroke-width="0.9"/>
<line x1="69.40" y1="482.10" x2="77.40" y2="482.10" stroke="#d6607a" stroke-width="0.9"/>
<line x1="69.40" y1="508.10" x2="77.40" y2="508.10" stroke="#d6607a" stroke-width="0.9"/>
<circle cx="73.40" cy="474.80" r="1.5" fill="#b2102e"/>
<circle cx="73.40" cy="487.90" r="1.5" fill="#b2102e"/>
<circle cx="73.40" cy="492.80" r="1.5" fill="#b2102e"/>
<circle cx="73.40" cy="497.50" r="1.5" fill="#b2102e"/>
<circle cx="73.40" cy="505.10" r="1.5" fill="#b2102e"/>
<circle cx="73.40" cy="512.70" r="1.5" fill="#b2102e"/>
<line x1="66.60" y1="495.00" x2="80.20" y2="495.00" stroke="#c0233d" stroke-width="1.0"/>
<polyline points="52.80,500.00 52.80,470.50 73.40,470.50 73.40,472.80" fill="none" stroke="#333" stroke-width="0.9"/>
<text x="63.10" y="470.20" font-size="6.0" text-anchor="middle" fill="#222" font-weight="normal">*</text>
<text x="63.25" y="445.50" font-size="7.8" text-anchor="middle" fill="#222" font-weight="normal" stroke="#222" stroke-width="0.18">Itgam</text>
<text x="63.25" y="455.40" font-size="7.8" text-anchor="middle" fill="#222" font-weight="normal" stroke="#222" stroke-width="0.18">(CD11b)</text>
<text transform="translate(24.40,503.70) rotate(-90)" x="0" y="0" font-size="6.5" text-anchor="middle" fill="#333" font-weight="bold" textLength="46.2" lengthAdjust="spacingAndGlyphs">log 2 (fold change)</text>
<line x1="114.40" y1="525.60" x2="158.00" y2="525.60" stroke="#6a6a6a" stroke-width="0.8" stroke-dasharray="0.9,0.9"/>
<line x1="114.40" y1="461.40" x2="114.40" y2="546.70" stroke="#2a2a2a" stroke-width="1.1"/>
<line x1="113.90" y1="546.20" x2="157.00" y2="546.20" stroke="#2a2a2a" stroke-width="1.1"/>
<line x1="111.80" y1="463.90" x2="114.40" y2="463.90" stroke="#2a2a2a" stroke-width="0.9"/>
<text x="108.90" y="465.90" font-size="5.8" text-anchor="end" fill="#222" font-weight="normal" stroke="#222" stroke-width="0.12">3</text>
<line x1="111.80" y1="484.40" x2="114.40" y2="484.40" stroke="#2a2a2a" stroke-width="0.9"/>
<text x="108.90" y="486.40" font-size="5.8" text-anchor="end" fill="#222" font-weight="normal" stroke="#222" stroke-width="0.12">2</text>
<line x1="111.80" y1="505.10" x2="114.40" y2="505.10" stroke="#2a2a2a" stroke-width="0.9"/>
<text x="108.90" y="507.10" font-size="5.8" text-anchor="end" fill="#222" font-weight="normal" stroke="#222" stroke-width="0.12">1</text>
<line x1="111.80" y1="525.60" x2="114.40" y2="525.60" stroke="#2a2a2a" stroke-width="0.9"/>
<text x="108.90" y="527.60" font-size="5.8" text-anchor="end" fill="#222" font-weight="normal" stroke="#222" stroke-width="0.12">0</text>
<line x1="111.80" y1="545.80" x2="114.40" y2="545.80" stroke="#2a2a2a" stroke-width="0.9"/>
<text x="108.90" y="547.80" font-size="5.8" text-anchor="end" fill="#222" font-weight="normal" stroke="#222" stroke-width="0.12">−1</text>
<line x1="124.70" y1="546.20" x2="124.70" y2="549.00" stroke="#2a2a2a" stroke-width="0.9"/>
<text x="124.70" y="557.30" font-size="6.0" text-anchor="middle" fill="#222" font-weight="normal" stroke="#222" stroke-width="0.15">AA</text>
<line x1="145.00" y1="546.20" x2="145.00" y2="549.00" stroke="#2a2a2a" stroke-width="0.9"/>
<text x="145.00" y="557.30" font-size="6.0" text-anchor="middle" fill="#222" font-weight="normal" stroke="#222" stroke-width="0.15">SS</text>
<line x1="124.70" y1="517.70" x2="124.70" y2="534.50" stroke="#88a5cb" stroke-width="0.9"/>
<line x1="120.70" y1="517.70" x2="128.70" y2="517.70" stroke="#88a5cb" stroke-width="0.9"/>
<line x1="120.70" y1="534.50" x2="128.70" y2="534.50" stroke="#88a5cb" stroke-width="0.9"/>
<circle cx="124.70" cy="514.00" r="1.5" fill="#1a3966"/>
<circle cx="124.70" cy="521.60" r="1.5" fill="#1a3966"/>
<circle cx="121.50" cy="527.50" r="1.5" fill="#1a3966"/>
<circle cx="127.70" cy="525.30" r="1.5" fill="#1a3966"/>
<circle cx="127.70" cy="530.00" r="1.5" fill="#1a3966"/>
<circle cx="124.70" cy="539.60" r="1.5" fill="#1a3966"/>
<line x1="117.90" y1="526.10" x2="131.50" y2="526.10" stroke="#37598a" stroke-width="1.0"/>
<line x1="145.00" y1="472.30" x2="145.00" y2="501.40" stroke="#d6607a" stroke-width="0.9"/>
<line x1="141.00" y1="472.30" x2="149.00" y2="472.30" stroke="#d6607a" stroke-width="0.9"/>
<line x1="141.00" y1="501.40" x2="149.00" y2="501.40" stroke="#d6607a" stroke-width="0.9"/>
<circle cx="145.00" cy="473.10" r="1.5" fill="#b2102e"/>
<circle cx="142.00" cy="477.00" r="1.5" fill="#b2102e"/>
<circle cx="148.20" cy="478.50" r="1.5" fill="#b2102e"/>
<circle cx="145.00" cy="484.40" r="1.5" fill="#b2102e"/>
<circle cx="145.00" cy="495.30" r="1.5" fill="#b2102e"/>
<circle cx="145.00" cy="511.80" r="1.5" fill="#b2102e"/>
<line x1="138.20" y1="486.60" x2="151.80" y2="486.60" stroke="#c0233d" stroke-width="1.0"/>
<polyline points="124.70,512.70 124.70,467.40 145.00,467.40 145.00,470.40" fill="none" stroke="#333" stroke-width="0.9"/>
<text x="134.85" y="467.10" font-size="6.0" text-anchor="middle" fill="#222" font-weight="normal">**</text>
<text x="135.70" y="445.50" font-size="7.8" text-anchor="middle" fill="#222" font-weight="normal" stroke="#222" stroke-width="0.18">Mrgpra2b</text>
<text x="135.70" y="455.40" font-size="7.8" text-anchor="middle" fill="#222" font-weight="normal" stroke="#222" stroke-width="0.18">(granulocytes)</text>
<text transform="translate(97.50,503.80) rotate(-90)" x="0" y="0" font-size="6.5" text-anchor="middle" fill="#333" font-weight="bold" textLength="46.2" lengthAdjust="spacingAndGlyphs">log 2 (fold change)</text>
<line x1="189.70" y1="525.60" x2="232.40" y2="525.60" stroke="#6a6a6a" stroke-width="0.8" stroke-dasharray="0.9,0.9"/>
<line x1="189.70" y1="461.40" x2="189.70" y2="546.30" stroke="#2a2a2a" stroke-width="1.1"/>
<line x1="189.20" y1="545.80" x2="231.40" y2="545.80" stroke="#2a2a2a" stroke-width="1.1"/>
<line x1="187.10" y1="463.90" x2="189.70" y2="463.90" stroke="#2a2a2a" stroke-width="0.9"/>
<text x="184.20" y="465.90" font-size="5.8" text-anchor="end" fill="#222" font-weight="normal" stroke="#222" stroke-width="0.12">3</text>
<line x1="187.10" y1="484.40" x2="189.70" y2="484.40" stroke="#2a2a2a" stroke-width="0.9"/>
<text x="184.20" y="486.40" font-size="5.8" text-anchor="end" fill="#222" font-weight="normal" stroke="#222" stroke-width="0.12">2</text>
<line x1="187.10" y1="504.90" x2="189.70" y2="504.90" stroke="#2a2a2a" stroke-width="0.9"/>
<text x="184.20" y="506.90" font-size="5.8" text-anchor="end" fill="#222" font-weight="normal" stroke="#222" stroke-width="0.12">1</text>
<line x1="187.10" y1="525.60" x2="189.70" y2="525.60" stroke="#2a2a2a" stroke-width="0.9"/>
<text x="184.20" y="527.60" font-size="5.8" text-anchor="end" fill="#222" font-weight="normal" stroke="#222" stroke-width="0.12">0</text>
<line x1="187.10" y1="545.80" x2="189.70" y2="545.80" stroke="#2a2a2a" stroke-width="0.9"/>
<text x="184.20" y="547.80" font-size="5.8" text-anchor="end" fill="#222" font-weight="normal" stroke="#222" stroke-width="0.12">−1</text>
<line x1="199.90" y1="545.80" x2="199.90" y2="548.60" stroke="#2a2a2a" stroke-width="0.9"/>
<text x="199.90" y="556.90" font-size="6.0" text-anchor="middle" fill="#222" font-weight="normal" stroke="#222" stroke-width="0.15">AA</text>
<line x1="220.40" y1="545.80" x2="220.40" y2="548.60" stroke="#2a2a2a" stroke-width="0.9"/>
<text x="220.40" y="556.90" font-size="6.0" text-anchor="middle" fill="#222" font-weight="normal" stroke="#222" stroke-width="0.15">SS</text>
<line x1="199.90" y1="521.60" x2="199.90" y2="529.50" stroke="#88a5cb" stroke-width="0.9"/>
<line x1="195.90" y1="521.60" x2="203.90" y2="521.60" stroke="#88a5cb" stroke-width="0.9"/>
<line x1="195.90" y1="529.50" x2="203.90" y2="529.50" stroke="#88a5cb" stroke-width="0.9"/>
<circle cx="196.80" cy="519.90" r="1.5" fill="#1a3966"/>
<circle cx="203.00" cy="521.40" r="1.5" fill="#1a3966"/>
<circle cx="196.80" cy="526.60" r="1.5" fill="#1a3966"/>
<circle cx="203.00" cy="526.60" r="1.5" fill="#1a3966"/>
<circle cx="200.20" cy="525.00" r="1.5" fill="#1a3966"/>
<circle cx="200.20" cy="532.30" r="1.5" fill="#1a3966"/>
<line x1="193.10" y1="525.60" x2="206.70" y2="525.60" stroke="#37598a" stroke-width="1.0"/>
<line x1="220.40" y1="489.50" x2="220.40" y2="531.50" stroke="#d6607a" stroke-width="0.9"/>
<line x1="216.40" y1="489.50" x2="224.40" y2="489.50" stroke="#d6607a" stroke-width="0.9"/>
<line x1="216.40" y1="531.50" x2="224.40" y2="531.50" stroke="#d6607a" stroke-width="0.9"/>
<circle cx="220.40" cy="479.00" r="1.5" fill="#b2102e"/>
<circle cx="217.30" cy="503.40" r="1.5" fill="#b2102e"/>
<circle cx="223.40" cy="504.30" r="1.5" fill="#b2102e"/>
<circle cx="220.40" cy="508.10" r="1.5" fill="#b2102e"/>
<circle cx="220.40" cy="531.20" r="1.5" fill="#b2102e"/>
<circle cx="220.40" cy="536.20" r="1.5" fill="#b2102e"/>
<line x1="213.60" y1="510.50" x2="227.20" y2="510.50" stroke="#c0233d" stroke-width="1.0"/>
<text x="210.55" y="445.50" font-size="7.8" text-anchor="middle" fill="#222" font-weight="normal" stroke="#222" stroke-width="0.18">FcgR1</text>
<text x="210.55" y="455.40" font-size="7.8" text-anchor="middle" fill="#222" font-weight="normal" stroke="#222" stroke-width="0.18">(mono/macro)</text>
<text transform="translate(172.80,503.60) rotate(-90)" x="0" y="0" font-size="6.5" text-anchor="middle" fill="#333" font-weight="bold" textLength="46.2" lengthAdjust="spacingAndGlyphs">log 2 (fold change)</text>
<text x="6.60" y="46.80" font-size="11" text-anchor="start" fill="#111" font-weight="bold" stroke="#111" stroke-width="0.3">A</text>
<text x="6.60" y="180.90" font-size="11" text-anchor="start" fill="#111" font-weight="bold" stroke="#111" stroke-width="0.3">B</text>
<text x="6.60" y="314.60" font-size="11" text-anchor="start" fill="#111" font-weight="bold" stroke="#111" stroke-width="0.3">C</text>
<text x="6.60" y="448.50" font-size="11" text-anchor="start" fill="#111" font-weight="bold" stroke="#111" stroke-width="0.3">D</text>
<text transform="translate(13.30,98.10) rotate(-90)" x="0" y="0" font-size="7.6" text-anchor="middle" fill="#222" font-weight="normal" stroke="#222" stroke-width="0.15">LIVER</text>
<text transform="translate(13.30,235.70) rotate(-90)" x="0" y="0" font-size="7.5" text-anchor="middle" fill="#222" font-weight="normal" stroke="#222" stroke-width="0.15">HEART</text>
<text transform="translate(13.30,369.60) rotate(-90)" x="0" y="0" font-size="7.6" text-anchor="middle" fill="#222" font-weight="normal" stroke="#222" stroke-width="0.15">KIDNEY</text>
<text transform="translate(13.30,503.30) rotate(-90)" x="0" y="0" font-size="7.9" text-anchor="middle" fill="#222" font-weight="normal" stroke="#222" stroke-width="0.15">LUNG</text>
<text x="211.80" y="13.00" font-size="7.7" text-anchor="start" fill="#1a1a1a" font-weight="normal" textLength="115.5" lengthAdjust="spacingAndGlyphs" stroke="#1a1a1a" stroke-width="0.15">Myeloid populations estimation by</text>
<line x1="167.70" y1="11.20" x2="209.20" y2="11.20" stroke="#222" stroke-width="0.9"/>
<line x1="167.70" y1="11.20" x2="167.70" y2="17.20" stroke="#222" stroke-width="0.9"/>
<polygon points="165.9,16.6 169.5,16.6 167.7,20.6" fill="#111"/>
<line x1="331.30" y1="11.20" x2="372.00" y2="11.20" stroke="#222" stroke-width="0.9"/>
<line x1="372.00" y1="11.20" x2="372.00" y2="17.40" stroke="#222" stroke-width="0.9"/>
<polygon points="370.2,16.8 373.8,16.8 372.0,21.0" fill="#111"/>
<text x="168.20" y="26.80" font-size="5.4" text-anchor="middle" fill="#222" font-weight="normal" textLength="66.5" lengthAdjust="spacingAndGlyphs">MCP counter/Quantigene</text>
<text x="371.90" y="27.40" font-size="5.4" text-anchor="middle" fill="#222" font-weight="normal" textLength="26" lengthAdjust="spacingAndGlyphs">Cytometry</text>
<text x="246.30" y="46.80" font-size="11" text-anchor="start" fill="#111" font-weight="bold" stroke="#111" stroke-width="0.3">E</text>
<rect x="266.30" y="61.60" width="51.30" height="51.40" stroke="#b4b4b4" stroke-width="0.7" fill="none"/>
<line x1="266.30" y1="61.60" x2="266.30" y2="113.00" stroke="#8c8c8c" stroke-width="0.7"/>
<line x1="266.30" y1="113.00" x2="317.60" y2="113.00" stroke="#8c8c8c" stroke-width="0.7"/>
<line x1="264.90" y1="64.00" x2="266.60" y2="64.00" stroke="#333" stroke-width="0.6"/>
<text x="264.20" y="65.40" font-size="3.9" text-anchor="end" fill="#444" font-weight="normal">250K</text>
<line x1="264.90" y1="73.70" x2="266.60" y2="73.70" stroke="#333" stroke-width="0.6"/>
<text x="264.20" y="75.10" font-size="3.9" text-anchor="end" fill="#444" font-weight="normal">200K</text>
<line x1="264.90" y1="83.20" x2="266.60" y2="83.20" stroke="#333" stroke-width="0.6"/>
<text x="264.20" y="84.60" font-size="3.9" text-anchor="end" fill="#444" font-weight="normal">150K</text>
<line x1="264.90" y1="92.80" x2="266.60" y2="92.80" stroke="#333" stroke-width="0.6"/>
<text x="264.20" y="94.20" font-size="3.9" text-anchor="end" fill="#444" font-weight="normal">100K</text>
<line x1="264.90" y1="102.40" x2="266.60" y2="102.40" stroke="#333" stroke-width="0.6"/>
<text x="264.20" y="103.80" font-size="3.9" text-anchor="end" fill="#444" font-weight="normal">50K</text>
<line x1="264.90" y1="112.30" x2="266.60" y2="112.30" stroke="#333" stroke-width="0.6"/>
<text x="264.20" y="113.70" font-size="3.9" text-anchor="end" fill="#444" font-weight="normal">0</text>
<line x1="269.40" y1="112.70" x2="269.40" y2="114.40" stroke="#333" stroke-width="0.6"/>
<text x="269.40" y="119.20" font-size="3.9" text-anchor="middle" fill="#444" font-weight="normal">−10<tspan font-size="2.42" dy="-1.56">3</tspan></text>
<line x1="279.30" y1="112.70" x2="279.30" y2="114.40" stroke="#333" stroke-width="0.6"/>
<text x="279.30" y="119.20" font-size="3.9" text-anchor="middle" fill="#444" font-weight="normal">0</text>
<line x1="286.00" y1="112.70" x2="286.00" y2="114.40" stroke="#333" stroke-width="0.6"/>
<text x="286.00" y="119.20" font-size="3.9" text-anchor="middle" fill="#444" font-weight="normal">10<tspan font-size="2.42" dy="-1.56">3</tspan></text>
<line x1="301.00" y1="112.70" x2="301.00" y2="114.40" stroke="#333" stroke-width="0.6"/>
<text x="301.00" y="119.20" font-size="3.9" text-anchor="middle" fill="#444" font-weight="normal">10<tspan font-size="2.42" dy="-1.56">4</tspan></text>
<line x1="313.00" y1="112.70" x2="313.00" y2="114.40" stroke="#333" stroke-width="0.6"/>
<text x="313.00" y="119.20" font-size="3.9" text-anchor="middle" fill="#444" font-weight="normal">10<tspan font-size="2.42" dy="-1.56">5</tspan></text>
<text x="291.70" y="126.70" font-size="6.0" text-anchor="middle" fill="#222" font-weight="normal" textLength="9.8" lengthAdjust="spacingAndGlyphs" stroke="#222" stroke-width="0.22">CD45</text>
<text transform="translate(251.70,87.80) rotate(-90)" x="0" y="0" font-size="6.0" text-anchor="middle" fill="#222" font-weight="normal" textLength="11.6" lengthAdjust="spacingAndGlyphs" stroke="#222" stroke-width="0.22">SSC-H</text>
<rect x="276.7" y="95.8" width="2.6" height="17.0" rx="1" fill="url(#gstreak)" filter="url(#b04)"/>
<line x1="268.50" y1="112.70" x2="286.00" y2="112.70" stroke="#777" stroke-width="0.8"/>
<line x1="276.20" y1="112.70" x2="279.60" y2="112.70" stroke="#222" stroke-width="1.0"/>
<line x1="286.70" y1="61.60" x2="286.70" y2="113.00" stroke="#888" stroke-width="0.8"/>
<line x1="286.70" y1="61.60" x2="317.60" y2="61.60" stroke="#666" stroke-width="1.1"/>
<text x="302.50" y="86.50" font-size="2.8" text-anchor="middle" fill="#1a1a1a" font-weight="normal" textLength="5.5" lengthAdjust="spacingAndGlyphs">CD45+</text>
<text x="302.50" y="89.50" font-size="2.8" text-anchor="middle" fill="#1a1a1a" font-weight="normal">xx.xx</text>
<circle cx="300.60" cy="107.00" r="1.4" fill="#d0d0d0"/>
<rect x="331.90" y="61.90" width="50.70" height="50.80" stroke="#b4b4b4" stroke-width="0.7" fill="none"/>
<line x1="331.90" y1="61.90" x2="331.90" y2="112.70" stroke="#8c8c8c" stroke-width="0.7"/>
<line x1="331.90" y1="112.70" x2="382.60" y2="112.70" stroke="#8c8c8c" stroke-width="0.7"/>
<line x1="330.50" y1="66.20" x2="332.20" y2="66.20" stroke="#333" stroke-width="0.6"/>
<text x="329.80" y="67.60" font-size="3.9" text-anchor="end" fill="#444" font-weight="normal">10<tspan font-size="2.42" dy="-1.56">5</tspan></text>
<line x1="330.50" y1="78.20" x2="332.20" y2="78.20" stroke="#333" stroke-width="0.6"/>
<text x="329.80" y="79.60" font-size="3.9" text-anchor="end" fill="#444" font-weight="normal">10<tspan font-size="2.42" dy="-1.56">4</tspan></text>
<line x1="330.50" y1="92.20" x2="332.20" y2="92.20" stroke="#333" stroke-width="0.6"/>
<text x="329.80" y="93.60" font-size="3.9" text-anchor="end" fill="#444" font-weight="normal">10<tspan font-size="2.42" dy="-1.56">3</tspan></text>
<line x1="330.50" y1="100.50" x2="332.20" y2="100.50" stroke="#333" stroke-width="0.6"/>
<text x="329.80" y="101.90" font-size="3.9" text-anchor="end" fill="#444" font-weight="normal">0</text>
<line x1="330.50" y1="108.50" x2="332.20" y2="108.50" stroke="#333" stroke-width="0.6"/>
<text x="329.80" y="109.90" font-size="3.9" text-anchor="end" fill="#444" font-weight="normal">−10<tspan font-size="2.42" dy="-1.56">3</tspan></text>
<line x1="336.20" y1="112.40" x2="336.20" y2="114.10" stroke="#333" stroke-width="0.6"/>
<text x="336.20" y="118.40" font-size="3.9" text-anchor="middle" fill="#444" font-weight="normal">−10<tspan font-size="2.42" dy="-1.56">3</tspan></text>
<line x1="343.60" y1="112.40" x2="343.60" y2="114.10" stroke="#333" stroke-width="0.6"/>
<text x="343.60" y="118.40" font-size="3.9" text-anchor="middle" fill="#444" font-weight="normal">0</text>
<line x1="349.60" y1="112.40" x2="349.60" y2="114.10" stroke="#333" stroke-width="0.6"/>
<text x="349.60" y="118.40" font-size="3.9" text-anchor="middle" fill="#444" font-weight="normal">10<tspan font-size="2.42" dy="-1.56">3</tspan></text>
<line x1="364.00" y1="112.40" x2="364.00" y2="114.10" stroke="#333" stroke-width="0.6"/>
<text x="364.00" y="118.40" font-size="3.9" text-anchor="middle" fill="#444" font-weight="normal">10<tspan font-size="2.42" dy="-1.56">4</tspan></text>
<line x1="378.00" y1="112.40" x2="378.00" y2="114.10" stroke="#333" stroke-width="0.6"/>
<text x="378.00" y="118.40" font-size="3.9" text-anchor="middle" fill="#444" font-weight="normal">10<tspan font-size="2.42" dy="-1.56">5</tspan></text>
<text x="355.90" y="126.70" font-size="6.0" text-anchor="middle" fill="#222" font-weight="normal" textLength="9.8" lengthAdjust="spacingAndGlyphs" stroke="#222" stroke-width="0.22">CD45</text>
<text transform="translate(323.40,87.65) rotate(-90)" x="0" y="0" font-size="6.0" text-anchor="middle" fill="#222" font-weight="normal" textLength="7.3" lengthAdjust="spacingAndGlyphs" stroke="#222" stroke-width="0.22">CD3</text>
<rect x="346.20" y="87.50" width="35.10" height="10.70" stroke="#777" stroke-width="0.7" fill="none"/>
<rect x="344.10" y="98.20" width="36.70" height="13.50" stroke="#777" stroke-width="0.7" fill="none"/>
<path d="M353,100 L366,100.2 C369,100.5 370,102 369.5,103.5 C369,105 367,105.4 364,105.2 L353,104.8 C350.6,104.6 350.4,100.2 353,100Z" fill="#ececec" stroke="#3a3a3a" stroke-width="0.9" filter="url(#b03)"/>
<path d="M354,101.6 L364,101.8 M354,103.2 L364,103.4" stroke="#888" stroke-width="0.5" filter="url(#b03)"/>
<ellipse cx="366" cy="102.9" rx="2.4" ry="1.8" fill="#444" filter="url(#b05)"/>
<text x="364.40" y="91.30" font-size="2.8" text-anchor="middle" fill="#1a1a1a" font-weight="normal" textLength="4.6" lengthAdjust="spacingAndGlyphs">CD3+</text>
<text x="364.40" y="94.30" font-size="2.8" text-anchor="middle" fill="#1a1a1a" font-weight="normal">xx.x</text>
<text x="364.40" y="107.60" font-size="2.8" text-anchor="middle" fill="#1a1a1a" font-weight="normal">xx.x</text>
<rect x="396.60" y="62.00" width="50.10" height="50.90" stroke="#b4b4b4" stroke-width="0.7" fill="none"/>
<line x1="396.60" y1="62.00" x2="396.60" y2="112.90" stroke="#8c8c8c" stroke-width="0.7"/>
<line x1="396.60" y1="112.90" x2="446.70" y2="112.90" stroke="#8c8c8c" stroke-width="0.7"/>
<line x1="395.20" y1="65.50" x2="396.90" y2="65.50" stroke="#333" stroke-width="0.6"/>
<text x="393.80" y="66.90" font-size="3.9" text-anchor="end" fill="#444" font-weight="normal">10<tspan font-size="2.42" dy="-1.56">5</tspan></text>
<line x1="395.20" y1="78.20" x2="396.90" y2="78.20" stroke="#333" stroke-width="0.6"/>
<text x="393.80" y="79.60" font-size="3.9" text-anchor="end" fill="#444" font-weight="normal">10<tspan font-size="2.42" dy="-1.56">4</tspan></text>
<line x1="395.20" y1="92.00" x2="396.90" y2="92.00" stroke="#333" stroke-width="0.6"/>
<text x="393.80" y="93.40" font-size="3.9" text-anchor="end" fill="#444" font-weight="normal">10<tspan font-size="2.42" dy="-1.56">3</tspan></text>
<line x1="395.20" y1="100.80" x2="396.90" y2="100.80" stroke="#333" stroke-width="0.6"/>
<text x="393.80" y="102.20" font-size="3.9" text-anchor="end" fill="#444" font-weight="normal">0</text>
<line x1="395.20" y1="108.40" x2="396.90" y2="108.40" stroke="#333" stroke-width="0.6"/>
<text x="393.80" y="109.80" font-size="3.9" text-anchor="end" fill="#444" font-weight="normal">−10<tspan font-size="2.42" dy="-1.56">3</tspan></text>
<line x1="404.40" y1="112.60" x2="404.40" y2="114.30" stroke="#333" stroke-width="0.6"/>
<text transform="translate(406.00,116.50) rotate(-50)" font-size="3.9" text-anchor="end" fill="#333" stroke="#333" stroke-width="0.12">50K</text>
<line x1="411.80" y1="112.60" x2="411.80" y2="114.30" stroke="#333" stroke-width="0.6"/>
<text transform="translate(413.40,116.50) rotate(-50)" font-size="3.9" text-anchor="end" fill="#333" stroke="#333" stroke-width="0.12">100K</text>
<line x1="422.40" y1="112.60" x2="422.40" y2="114.30" stroke="#333" stroke-width="0.6"/>
<text transform="translate(424.00,116.50) rotate(-50)" font-size="3.9" text-anchor="end" fill="#333" stroke="#333" stroke-width="0.12">150K</text>
<line x1="431.40" y1="112.60" x2="431.40" y2="114.30" stroke="#333" stroke-width="0.6"/>
<text transform="translate(433.00,116.50) rotate(-50)" font-size="3.9" text-anchor="end" fill="#333" stroke="#333" stroke-width="0.12">200K</text>
<line x1="442.00" y1="112.60" x2="442.00" y2="114.30" stroke="#333" stroke-width="0.6"/>
<text transform="translate(443.60,116.50) rotate(-50)" font-size="3.9" text-anchor="end" fill="#333" stroke="#333" stroke-width="0.12">250K</text>
<text x="420.40" y="131.80" font-size="6.0" text-anchor="middle" fill="#222" font-weight="normal" textLength="10.5" lengthAdjust="spacingAndGlyphs" stroke="#222" stroke-width="0.22">SSC-H</text>
<text transform="translate(388.00,88.70) rotate(-90)" x="0" y="0" font-size="6.0" text-anchor="middle" fill="#222" font-weight="normal" textLength="11.2" lengthAdjust="spacingAndGlyphs" stroke="#222" stroke-width="0.22">CD11b</text>
<ellipse cx="404.5" cy="86" rx="6.5" ry="7.5" fill="#d2d2d2" filter="url(#b10)"/>
<path d="M400,93 C400.5,84 404,74 413,68.5 C421,64.5 432,65.5 441,73" fill="none" stroke="#c4c4c4" stroke-width="5.5" stroke-linecap="round" filter="url(#b08)"/>
<path d="M402,86 C403,78 407,71 414,67.3 C421,64 431,65 439,71" fill="none" stroke="#5e5e5e" stroke-width="1.6" stroke-linecap="round" filter="url(#b05)"/>
<path d="M405,88 C406,81 409,75 415,71.5 C421,68.5 429,69 435,72.5" fill="none" stroke="#9a9a9a" stroke-width="0.8" filter="url(#b04)"/>
<rect x="412.50" y="62.00" width="34.20" height="25.30" stroke="#777" stroke-width="0.7" fill="none"/>
<rect x="396.60" y="76.40" width="15.90" height="18.00" stroke="#777" stroke-width="0.7" fill="none"/>
<text x="430.70" y="73.80" font-size="2.8" text-anchor="middle" fill="#1a1a1a" font-weight="normal" textLength="17.4" lengthAdjust="spacingAndGlyphs">CD11b+ SSC high</text>
<text x="430.70" y="76.80" font-size="2.8" text-anchor="middle" fill="#1a1a1a" font-weight="normal">xx.x</text>
<text x="406.10" y="77.40" font-size="2.8" text-anchor="middle" fill="#1a1a1a" font-weight="normal" textLength="17" lengthAdjust="spacingAndGlyphs">CD11b+ SSC low</text>
<text x="406.10" y="80.40" font-size="2.8" text-anchor="middle" fill="#1a1a1a" font-weight="normal">xx.x</text>
<rect x="462.00" y="62.00" width="51.40" height="51.10" stroke="#b4b4b4" stroke-width="0.7" fill="none"/>
<line x1="462.00" y1="62.00" x2="462.00" y2="113.10" stroke="#8c8c8c" stroke-width="0.7"/>
<line x1="462.00" y1="113.10" x2="513.40" y2="113.10" stroke="#8c8c8c" stroke-width="0.7"/>
<line x1="460.60" y1="65.40" x2="462.30" y2="65.40" stroke="#333" stroke-width="0.6"/>
<text x="459.20" y="66.80" font-size="3.9" text-anchor="end" fill="#444" font-weight="normal">10<tspan font-size="2.42" dy="-1.56">5</tspan></text>
<line x1="460.60" y1="78.50" x2="462.30" y2="78.50" stroke="#333" stroke-width="0.6"/>
<text x="459.20" y="79.90" font-size="3.9" text-anchor="end" fill="#444" font-weight="normal">10<tspan font-size="2.42" dy="-1.56">4</tspan></text>
<line x1="460.60" y1="91.50" x2="462.30" y2="91.50" stroke="#333" stroke-width="0.6"/>
<text x="459.20" y="92.90" font-size="3.9" text-anchor="end" fill="#444" font-weight="normal">10<tspan font-size="2.42" dy="-1.56">3</tspan></text>
<line x1="460.60" y1="100.80" x2="462.30" y2="100.80" stroke="#333" stroke-width="0.6"/>
<text x="459.20" y="102.20" font-size="3.9" text-anchor="end" fill="#444" font-weight="normal">0</text>
<line x1="460.60" y1="108.50" x2="462.30" y2="108.50" stroke="#333" stroke-width="0.6"/>
<text x="459.20" y="109.90" font-size="3.9" text-anchor="end" fill="#444" font-weight="normal">−10<tspan font-size="2.42" dy="-1.56">3</tspan></text>
<line x1="466.20" y1="112.80" x2="466.20" y2="114.50" stroke="#333" stroke-width="0.6"/>
<text x="466.20" y="119.00" font-size="3.9" text-anchor="middle" fill="#444" font-weight="normal">−10<tspan font-size="2.42" dy="-1.56">3</tspan></text>
<line x1="474.20" y1="112.80" x2="474.20" y2="114.50" stroke="#333" stroke-width="0.6"/>
<text x="474.20" y="119.00" font-size="3.9" text-anchor="middle" fill="#444" font-weight="normal">0</text>
<line x1="481.80" y1="112.80" x2="481.80" y2="114.50" stroke="#333" stroke-width="0.6"/>
<text x="481.80" y="119.00" font-size="3.9" text-anchor="middle" fill="#444" font-weight="normal">10<tspan font-size="2.42" dy="-1.56">3</tspan></text>
<line x1="496.20" y1="112.80" x2="496.20" y2="114.50" stroke="#333" stroke-width="0.6"/>
<text x="496.20" y="119.00" font-size="3.9" text-anchor="middle" fill="#444" font-weight="normal">10<tspan font-size="2.42" dy="-1.56">4</tspan></text>
<line x1="508.50" y1="112.80" x2="508.50" y2="114.50" stroke="#333" stroke-width="0.6"/>
<text x="508.50" y="119.00" font-size="3.9" text-anchor="middle" fill="#444" font-weight="normal">10<tspan font-size="2.42" dy="-1.56">5</tspan></text>
<text x="487.00" y="126.10" font-size="6.0" text-anchor="middle" fill="#222" font-weight="normal" textLength="9.8" lengthAdjust="spacingAndGlyphs" stroke="#222" stroke-width="0.22">Ly6G</text>
<text transform="translate(452.40,87.80) rotate(-90)" x="0" y="0" font-size="6.0" text-anchor="middle" fill="#222" font-weight="normal" textLength="10.7" lengthAdjust="spacingAndGlyphs" stroke="#222" stroke-width="0.22">CD11b</text>
<rect x="489.50" y="62.00" width="23.90" height="34.20" stroke="#777" stroke-width="0.7" fill="none"/>
<path d="M468.5,72 C470,67.5 477,67.3 481.5,70 C484.5,72 486,74.5 484.5,76.5 C483,79 481,82.5 477,84 C473,85 469,82.5 468.2,79 C467.6,76.5 467.8,74 468.5,72Z" fill="#c4c4c4" stroke="#a0a0a0" stroke-width="0.6" filter="url(#b06)"/>
<ellipse cx="474" cy="75.5" rx="4.2" ry="4.6" fill="#a8a8a8" filter="url(#b06)"/>
<ellipse cx="473.6" cy="75.2" rx="1.6" ry="1.8" fill="#e8e8e8" filter="url(#b04)"/>
<circle cx="501" cy="70.1" r="5.9" fill="#b8b8b8" filter="url(#b05)"/>
<circle cx="501" cy="70.1" r="4.2" fill="none" stroke="#555" stroke-width="1.3" filter="url(#b04)"/>
<circle cx="501" cy="70.1" r="2.2" fill="#d0d0d0" stroke="#888" stroke-width="0.7" filter="url(#b03)"/>
<text x="498.30" y="78.60" font-size="2.8" text-anchor="middle" fill="#1a1a1a" font-weight="normal" textLength="26" lengthAdjust="spacingAndGlyphs">CD11b+ SSC high Ly6G+</text>
<text x="498.00" y="81.40" font-size="2.8" text-anchor="middle" fill="#1a1a1a" font-weight="normal">xx.x</text>
<rect x="397.20" y="136.90" width="49.40" height="50.10" stroke="#b4b4b4" stroke-width="0.7" fill="none"/>
<line x1="397.20" y1="136.90" x2="397.20" y2="187.00" stroke="#8c8c8c" stroke-width="0.7"/>
<line x1="397.20" y1="187.00" x2="446.60" y2="187.00" stroke="#8c8c8c" stroke-width="0.7"/>
<line x1="395.80" y1="140.40" x2="397.50" y2="140.40" stroke="#333" stroke-width="0.6"/>
<text x="394.50" y="141.80" font-size="3.9" text-anchor="end" fill="#444" font-weight="normal">10<tspan font-size="2.42" dy="-1.56">5</tspan></text>
<line x1="395.80" y1="153.50" x2="397.50" y2="153.50" stroke="#333" stroke-width="0.6"/>
<text x="394.50" y="154.90" font-size="3.9" text-anchor="end" fill="#444" font-weight="normal">10<tspan font-size="2.42" dy="-1.56">4</tspan></text>
<line x1="395.80" y1="164.50" x2="397.50" y2="164.50" stroke="#333" stroke-width="0.6"/>
<text x="394.50" y="165.90" font-size="3.9" text-anchor="end" fill="#444" font-weight="normal">10<tspan font-size="2.42" dy="-1.56">3</tspan></text>
<line x1="395.80" y1="175.60" x2="397.50" y2="175.60" stroke="#333" stroke-width="0.6"/>
<text x="394.50" y="177.00" font-size="3.9" text-anchor="end" fill="#444" font-weight="normal">0</text>
<line x1="395.80" y1="186.20" x2="397.50" y2="186.20" stroke="#333" stroke-width="0.6"/>
<text x="394.50" y="187.60" font-size="3.9" text-anchor="end" fill="#444" font-weight="normal">−10<tspan font-size="2.42" dy="-1.56">3</tspan></text>
<line x1="397.90" y1="186.70" x2="397.90" y2="188.40" stroke="#333" stroke-width="0.6"/>
<text x="397.90" y="193.20" font-size="3.9" text-anchor="middle" fill="#444" font-weight="normal">−10<tspan font-size="2.42" dy="-1.56">3</tspan></text>
<line x1="407.70" y1="186.70" x2="407.70" y2="188.40" stroke="#333" stroke-width="0.6"/>
<text x="407.70" y="193.20" font-size="3.9" text-anchor="middle" fill="#444" font-weight="normal">0</text>
<line x1="414.20" y1="186.70" x2="414.20" y2="188.40" stroke="#333" stroke-width="0.6"/>
<text x="414.20" y="193.20" font-size="3.9" text-anchor="middle" fill="#444" font-weight="normal">10<tspan font-size="2.42" dy="-1.56">3</tspan></text>
<line x1="428.10" y1="186.70" x2="428.10" y2="188.40" stroke="#333" stroke-width="0.6"/>
<text x="428.10" y="193.20" font-size="3.9" text-anchor="middle" fill="#444" font-weight="normal">10<tspan font-size="2.42" dy="-1.56">4</tspan></text>
<line x1="441.20" y1="186.70" x2="441.20" y2="188.40" stroke="#333" stroke-width="0.6"/>
<text x="441.20" y="193.20" font-size="3.9" text-anchor="middle" fill="#444" font-weight="normal">10<tspan font-size="2.42" dy="-1.56">5</tspan></text>
<text x="419.80" y="201.00" font-size="6.0" text-anchor="middle" fill="#222" font-weight="normal" textLength="11.2" lengthAdjust="spacingAndGlyphs" stroke="#222" stroke-width="0.22">CD11c</text>
<text transform="translate(387.00,162.30) rotate(-90)" x="0" y="0" font-size="6.0" text-anchor="middle" fill="#222" font-weight="normal" textLength="10.8" lengthAdjust="spacingAndGlyphs" stroke="#222" stroke-width="0.22">CD11b</text>
<g filter="url(#b05)" fill="none"><path d="M413,148 C418,145 424,143 430,146 C426,150 424,153 428,157 C424,158 420,160 414,162" stroke="#aaa" stroke-width="0.6"/><path d="M413,150 C417,148 421,147 425,148.5 C422,152 421,154 424,157 C420,157.5 417,158.5 413,160" stroke="#bbb" stroke-width="0.6"/></g>
<rect x="399.6" y="139.8" width="12.6" height="28.6" rx="5.5" fill="#c6c6c6" stroke="#5a5a5a" stroke-width="1.3" filter="url(#b05)"/>
<ellipse cx="405.6" cy="146.6" rx="2.6" ry="3.8" fill="#e4e4e4" stroke="#777" stroke-width="0.8" filter="url(#b04)"/>
<ellipse cx="404.2" cy="160.6" rx="1.6" ry="5.6" fill="#d8d8d8" stroke="#888" stroke-width="0.6" filter="url(#b04)"/>
<ellipse cx="409.2" cy="160.6" rx="1.8" ry="6" fill="#9a9a9a" filter="url(#b05)"/>
<rect x="397.20" y="136.90" width="16.30" height="33.50" stroke="#777" stroke-width="0.7" fill="none"/>
<line x1="397.20" y1="152.40" x2="413.50" y2="152.40" stroke="#777" stroke-width="0.7"/>
<text x="405.10" y="155.80" font-size="2.8" text-anchor="middle" fill="#1a1a1a" font-weight="normal">xx.x</text>
<rect x="462.50" y="136.30" width="50.60" height="50.60" stroke="#b4b4b4" stroke-width="0.7" fill="none"/>
<line x1="462.50" y1="136.30" x2="462.50" y2="186.90" stroke="#8c8c8c" stroke-width="0.7"/>
<line x1="462.50" y1="186.90" x2="513.10" y2="186.90" stroke="#8c8c8c" stroke-width="0.7"/>
<line x1="461.10" y1="141.00" x2="462.80" y2="141.00" stroke="#333" stroke-width="0.6"/>
<text x="459.80" y="142.40" font-size="3.9" text-anchor="end" fill="#444" font-weight="normal">10<tspan font-size="2.42" dy="-1.56">5</tspan></text>
<line x1="461.10" y1="152.80" x2="462.80" y2="152.80" stroke="#333" stroke-width="0.6"/>
<text x="459.80" y="154.20" font-size="3.9" text-anchor="end" fill="#444" font-weight="normal">10<tspan font-size="2.42" dy="-1.56">4</tspan></text>
<line x1="461.10" y1="165.70" x2="462.80" y2="165.70" stroke="#333" stroke-width="0.6"/>
<text x="459.80" y="167.10" font-size="3.9" text-anchor="end" fill="#444" font-weight="normal">10<tspan font-size="2.42" dy="-1.56">3</tspan></text>
<line x1="461.10" y1="175.40" x2="462.80" y2="175.40" stroke="#333" stroke-width="0.6"/>
<text x="459.80" y="176.80" font-size="3.9" text-anchor="end" fill="#444" font-weight="normal">0</text>
<line x1="461.10" y1="183.00" x2="462.80" y2="183.00" stroke="#333" stroke-width="0.6"/>
<text x="459.80" y="184.40" font-size="3.9" text-anchor="end" fill="#444" font-weight="normal">−10<tspan font-size="2.42" dy="-1.56">3</tspan></text>
<line x1="466.90" y1="186.60" x2="466.90" y2="188.30" stroke="#333" stroke-width="0.6"/>
<text x="466.90" y="193.20" font-size="3.9" text-anchor="middle" fill="#444" font-weight="normal">−10<tspan font-size="2.42" dy="-1.56">3</tspan></text>
<line x1="474.20" y1="186.60" x2="474.20" y2="188.30" stroke="#333" stroke-width="0.6"/>
<text x="474.20" y="193.20" font-size="3.9" text-anchor="middle" fill="#444" font-weight="normal">0</text>
<line x1="481.80" y1="186.60" x2="481.80" y2="188.30" stroke="#333" stroke-width="0.6"/>
<text x="481.80" y="193.20" font-size="3.9" text-anchor="middle" fill="#444" font-weight="normal">10<tspan font-size="2.42" dy="-1.56">3</tspan></text>
<line x1="496.60" y1="186.60" x2="496.60" y2="188.30" stroke="#333" stroke-width="0.6"/>
<text x="496.60" y="193.20" font-size="3.9" text-anchor="middle" fill="#444" font-weight="normal">10<tspan font-size="2.42" dy="-1.56">4</tspan></text>
<line x1="507.70" y1="186.60" x2="507.70" y2="188.30" stroke="#333" stroke-width="0.6"/>
<text x="507.70" y="193.20" font-size="3.9" text-anchor="middle" fill="#444" font-weight="normal">10<tspan font-size="2.42" dy="-1.56">5</tspan></text>
<text x="486.90" y="201.00" font-size="6.0" text-anchor="middle" fill="#222" font-weight="normal" textLength="9.2" lengthAdjust="spacingAndGlyphs" stroke="#222" stroke-width="0.22">Ly6G</text>
<text transform="translate(452.40,162.60) rotate(-90)" x="0" y="0" font-size="6.0" text-anchor="middle" fill="#222" font-weight="normal" textLength="8.7" lengthAdjust="spacingAndGlyphs" stroke="#222" stroke-width="0.22">Ly6C</text>
<rect x="462.50" y="136.30" width="25.60" height="45.00" stroke="#777" stroke-width="0.7" fill="none"/>
<line x1="462.50" y1="151.30" x2="488.10" y2="151.30" stroke="#777" stroke-width="0.7"/>
<ellipse cx="499.9" cy="154" rx="12.8" ry="8.6" transform="rotate(-42 499.9 154)" fill="none" stroke="#666" stroke-width="0.7"/>
<path d="M495,150.5 C497,147.5 503,147.5 506,150.5" fill="none" stroke="#555" stroke-width="1.8" filter="url(#b04)"/>
<text x="499.30" y="153.00" font-size="2.8" text-anchor="middle" fill="#1a1a1a" font-weight="normal" textLength="12" lengthAdjust="spacingAndGlyphs">xxx xxxx</text>
<text x="499.30" y="156.00" font-size="2.8" text-anchor="middle" fill="#1a1a1a" font-weight="normal">xx.x</text>
<ellipse cx="473.8" cy="145.3" rx="4" ry="1.8" fill="none" stroke="#777" stroke-width="0.6"/>
<text x="473.80" y="142.80" font-size="2.8" text-anchor="middle" fill="#1a1a1a" font-weight="normal" textLength="6" lengthAdjust="spacingAndGlyphs">xxxxx</text>
<g filter="url(#b06)"><ellipse cx="471.5" cy="157" rx="2.6" ry="4.5" fill="#c8c8c8"/><ellipse cx="477.5" cy="157" rx="2.6" ry="4.5" fill="#d0d0d0"/></g>
<text x="474.20" y="165.80" font-size="2.8" text-anchor="middle" fill="#1a1a1a" font-weight="normal" textLength="14.5" lengthAdjust="spacingAndGlyphs">Macrophages</text>
<text x="474.20" y="168.80" font-size="2.8" text-anchor="middle" fill="#1a1a1a" font-weight="normal">xx.x</text>
<ellipse cx="472.8" cy="174.8" rx="3.6" ry="2.9" fill="#aaa" stroke="#444" stroke-width="1.0" filter="url(#b04)"/>
<ellipse cx="472.8" cy="174.8" rx="1.7" ry="1.2" fill="#e8e8e8" stroke="#666" stroke-width="0.6" filter="url(#b03)"/>
<line x1="317.80" y1="63.60" x2="330.50" y2="60.40" stroke="#1a1a1a" stroke-width="1.1"/>
<line x1="317.80" y1="111.80" x2="330.50" y2="112.70" stroke="#1a1a1a" stroke-width="1.1"/>
<line x1="380.50" y1="98.40" x2="391.80" y2="63.80" stroke="#1a1a1a" stroke-width="1.1"/>
<line x1="380.50" y1="112.00" x2="391.80" y2="115.20" stroke="#1a1a1a" stroke-width="1.1"/>
<line x1="448.00" y1="65.30" x2="458.40" y2="62.60" stroke="#1a1a1a" stroke-width="1.1"/>
<line x1="447.80" y1="90.60" x2="456.30" y2="111.60" stroke="#1a1a1a" stroke-width="1.1"/>
<line x1="412.40" y1="96.60" x2="447.60" y2="134.80" stroke="#1a1a1a" stroke-width="1.1"/>
<line x1="398.00" y1="95.60" x2="398.00" y2="134.40" stroke="#1a1a1a" stroke-width="1.1"/>
<line x1="413.50" y1="137.00" x2="458.50" y2="137.00" stroke="#1a1a1a" stroke-width="1.1"/>
<line x1="413.50" y1="170.40" x2="458.50" y2="184.80" stroke="#1a1a1a" stroke-width="1.1"/>
<text x="253.40" y="227.00" font-size="11" text-anchor="start" fill="#111" font-weight="bold" stroke="#111" stroke-width="0.3">F</text>
<text x="253.80" y="357.60" font-size="11" text-anchor="start" fill="#111" font-weight="bold" stroke="#111" stroke-width="0.3">G</text>
<text transform="translate(260.70,283.20) rotate(-90)" x="0" y="0" font-size="7.5" text-anchor="middle" fill="#222" font-weight="normal">LIVER</text>
<text transform="translate(263.30,406.70) rotate(-90)" x="0" y="0" font-size="7.9" text-anchor="middle" fill="#222" font-weight="normal">KIDNEY</text>
<line x1="289.70" y1="246.50" x2="289.70" y2="321.40" stroke="#2a2a2a" stroke-width="1.1"/>
<line x1="289.20" y1="320.90" x2="335.80" y2="320.90" stroke="#2a2a2a" stroke-width="1.1"/>
<line x1="287.10" y1="248.40" x2="289.70" y2="248.40" stroke="#2a2a2a" stroke-width="0.9"/>
<text x="284.00" y="250.40" font-size="5.8" text-anchor="end" fill="#333" font-weight="normal">10</text>
<line x1="287.10" y1="263.30" x2="289.70" y2="263.30" stroke="#2a2a2a" stroke-width="0.9"/>
<text x="284.00" y="265.30" font-size="5.8" text-anchor="end" fill="#333" font-weight="normal">8</text>
<line x1="287.10" y1="277.60" x2="289.70" y2="277.60" stroke="#2a2a2a" stroke-width="0.9"/>
<text x="284.00" y="279.60" font-size="5.8" text-anchor="end" fill="#333" font-weight="normal">6</text>
<line x1="287.10" y1="292.20" x2="289.70" y2="292.20" stroke="#2a2a2a" stroke-width="0.9"/>
<text x="284.00" y="294.20" font-size="5.8" text-anchor="end" fill="#333" font-weight="normal">4</text>
<line x1="287.10" y1="306.30" x2="289.70" y2="306.30" stroke="#2a2a2a" stroke-width="0.9"/>
<text x="284.00" y="308.30" font-size="5.8" text-anchor="end" fill="#333" font-weight="normal">2</text>
<line x1="287.10" y1="320.90" x2="289.70" y2="320.90" stroke="#2a2a2a" stroke-width="0.9"/>
<text x="284.00" y="322.90" font-size="5.8" text-anchor="end" fill="#333" font-weight="normal">0</text>
<line x1="303.20" y1="320.90" x2="303.20" y2="323.70" stroke="#2a2a2a" stroke-width="0.9"/>
<text x="303.20" y="331.80" font-size="5.9" text-anchor="middle" fill="#222" font-weight="normal" stroke="#222" stroke-width="0.15">AA</text>
<line x1="323.60" y1="320.90" x2="323.60" y2="323.70" stroke="#2a2a2a" stroke-width="0.9"/>
<text x="323.60" y="331.80" font-size="5.9" text-anchor="middle" fill="#222" font-weight="normal" stroke="#222" stroke-width="0.15">SS</text>
<circle cx="302.90" cy="302.10" r="1.2" fill="#1a3966"/>
<circle cx="302.90" cy="306.70" r="1.2" fill="#1a3966"/>
<circle cx="302.90" cy="309.70" r="1.2" fill="#1a3966"/>
<circle cx="302.90" cy="313.10" r="1.2" fill="#1a3966"/>
<line x1="296.40" y1="308.30" x2="310.00" y2="308.30" stroke="#1c2a44" stroke-width="1.0"/>
<circle cx="323.70" cy="255.60" r="1.2" fill="#b2102e"/>
<circle cx="323.70" cy="286.70" r="1.2" fill="#b2102e"/>
<circle cx="323.70" cy="300.90" r="1.2" fill="#b2102e"/>
<circle cx="323.70" cy="304.80" r="1.2" fill="#b2102e"/>
<line x1="316.80" y1="297.50" x2="330.40" y2="297.50" stroke="#3a2a2e" stroke-width="1.0"/>
<polyline points="303.20,298.30 303.20,247.30 323.60,247.30 323.60,252.30" fill="none" stroke="#333" stroke-width="0.9"/>
<text x="313.40" y="247.20" font-size="5.8" text-anchor="middle" fill="#222" font-weight="normal">*</text>
<text x="312.75" y="224.70" font-size="7.6" text-anchor="middle" fill="#222" font-weight="normal" stroke="#222" stroke-width="0.06">Inflammatory</text>
<text x="312.75" y="234.10" font-size="7.6" text-anchor="middle" fill="#222" font-weight="normal" stroke="#222" stroke-width="0.06">monocytes</text>
<text transform="translate(271.40,283.70) rotate(-90)" x="0" y="0" font-size="7.1" text-anchor="middle" fill="#333" font-weight="bold" textLength="42.5" lengthAdjust="spacingAndGlyphs">Freq of CD45 (%)</text>
<line x1="370.20" y1="246.40" x2="370.20" y2="321.60" stroke="#2a2a2a" stroke-width="1.1"/>
<line x1="369.70" y1="321.10" x2="417.00" y2="321.10" stroke="#2a2a2a" stroke-width="1.1"/>
<line x1="367.60" y1="248.20" x2="370.20" y2="248.20" stroke="#2a2a2a" stroke-width="0.9"/>
<text x="364.50" y="250.20" font-size="5.8" text-anchor="end" fill="#333" font-weight="normal">10</text>
<line x1="367.60" y1="263.00" x2="370.20" y2="263.00" stroke="#2a2a2a" stroke-width="0.9"/>
<text x="364.50" y="265.00" font-size="5.8" text-anchor="end" fill="#333" font-weight="normal">8</text>
<line x1="367.60" y1="277.40" x2="370.20" y2="277.40" stroke="#2a2a2a" stroke-width="0.9"/>
<text x="364.50" y="279.40" font-size="5.8" text-anchor="end" fill="#333" font-weight="normal">6</text>
<line x1="367.60" y1="291.90" x2="370.20" y2="291.90" stroke="#2a2a2a" stroke-width="0.9"/>
<text x="364.50" y="293.90" font-size="5.8" text-anchor="end" fill="#333" font-weight="normal">4</text>
<line x1="367.60" y1="306.10" x2="370.20" y2="306.10" stroke="#2a2a2a" stroke-width="0.9"/>
<text x="364.50" y="308.10" font-size="5.8" text-anchor="end" fill="#333" font-weight="normal">2</text>
<line x1="367.60" y1="321.10" x2="370.20" y2="321.10" stroke="#2a2a2a" stroke-width="0.9"/>
<text x="364.50" y="323.10" font-size="5.8" text-anchor="end" fill="#333" font-weight="normal">0</text>
<line x1="383.70" y1="321.10" x2="383.70" y2="323.90" stroke="#2a2a2a" stroke-width="0.9"/>
<text x="383.70" y="332.00" font-size="5.9" text-anchor="middle" fill="#222" font-weight="normal" stroke="#222" stroke-width="0.15">AA</text>
<line x1="403.60" y1="321.10" x2="403.60" y2="323.90" stroke="#2a2a2a" stroke-width="0.9"/>
<text x="403.60" y="332.00" font-size="5.9" text-anchor="middle" fill="#222" font-weight="normal" stroke="#222" stroke-width="0.15">SS</text>
<circle cx="383.70" cy="266.60" r="1.2" fill="#1a3966"/>
<circle cx="383.70" cy="272.10" r="1.2" fill="#1a3966"/>
<circle cx="383.70" cy="280.90" r="1.2" fill="#1a3966"/>
<circle cx="383.70" cy="287.30" r="1.2" fill="#1a3966"/>
<line x1="376.90" y1="276.50" x2="390.50" y2="276.50" stroke="#1c2a44" stroke-width="1.0"/>
<circle cx="401.60" cy="254.90" r="1.2" fill="#b2102e"/>
<circle cx="406.20" cy="256.30" r="1.2" fill="#b2102e"/>
<circle cx="403.90" cy="270.00" r="1.2" fill="#b2102e"/>
<circle cx="401.60" cy="275.10" r="1.2" fill="#b2102e"/>
<circle cx="406.20" cy="275.10" r="1.2" fill="#b2102e"/>
<line x1="396.80" y1="270.10" x2="410.40" y2="270.10" stroke="#3a2a2e" stroke-width="1.0"/>
<polyline points="383.70,262.50 383.70,246.40 403.60,246.40 403.60,251.20" fill="none" stroke="#333" stroke-width="0.9"/>
<text x="393.65" y="244.20" font-size="5.4" text-anchor="middle" fill="#222" font-weight="normal">ns</text>
<text x="393.60" y="224.70" font-size="7.6" text-anchor="middle" fill="#222" font-weight="normal" stroke="#222" stroke-width="0.06">Resident</text>
<text x="393.60" y="234.10" font-size="7.6" text-anchor="middle" fill="#222" font-weight="normal" stroke="#222" stroke-width="0.06">macrophages</text>
<text transform="translate(352.60,283.75) rotate(-90)" x="0" y="0" font-size="7.1" text-anchor="middle" fill="#333" font-weight="bold" textLength="42.5" lengthAdjust="spacingAndGlyphs">Freq of CD45 (%)</text>
<line x1="450.50" y1="247.50" x2="450.50" y2="321.60" stroke="#2a2a2a" stroke-width="1.1"/>
<line x1="450.00" y1="321.10" x2="497.00" y2="321.10" stroke="#2a2a2a" stroke-width="1.1"/>
<line x1="447.90" y1="248.20" x2="450.50" y2="248.20" stroke="#2a2a2a" stroke-width="0.9"/>
<text x="444.80" y="250.20" font-size="5.8" text-anchor="end" fill="#333" font-weight="normal">15</text>
<line x1="447.90" y1="272.80" x2="450.50" y2="272.80" stroke="#2a2a2a" stroke-width="0.9"/>
<text x="444.80" y="274.80" font-size="5.8" text-anchor="end" fill="#333" font-weight="normal">10</text>
<line x1="447.90" y1="297.00" x2="450.50" y2="297.00" stroke="#2a2a2a" stroke-width="0.9"/>
<text x="444.80" y="299.00" font-size="5.8" text-anchor="end" fill="#333" font-weight="normal">5</text>
<line x1="447.90" y1="321.10" x2="450.50" y2="321.10" stroke="#2a2a2a" stroke-width="0.9"/>
<text x="444.80" y="323.10" font-size="5.8" text-anchor="end" fill="#333" font-weight="normal">0</text>
<line x1="463.70" y1="321.10" x2="463.70" y2="323.90" stroke="#2a2a2a" stroke-width="0.9"/>
<text x="463.70" y="332.00" font-size="5.9" text-anchor="middle" fill="#222" font-weight="normal" stroke="#222" stroke-width="0.15">AA</text>
<line x1="483.90" y1="321.10" x2="483.90" y2="323.90" stroke="#2a2a2a" stroke-width="0.9"/>
<text x="483.90" y="332.00" font-size="5.9" text-anchor="middle" fill="#222" font-weight="normal" stroke="#222" stroke-width="0.15">SS</text>
<circle cx="463.70" cy="291.20" r="1.2" fill="#1a3966"/>
<circle cx="463.70" cy="297.00" r="1.2" fill="#1a3966"/>
<circle cx="463.70" cy="299.50" r="1.2" fill="#1a3966"/>
<circle cx="463.70" cy="307.30" r="1.2" fill="#1a3966"/>
<line x1="456.90" y1="300.00" x2="470.50" y2="300.00" stroke="#1c2a44" stroke-width="1.0"/>
<circle cx="483.90" cy="260.20" r="1.2" fill="#b2102e"/>
<circle cx="483.90" cy="267.80" r="1.2" fill="#b2102e"/>
<circle cx="485.50" cy="271.70" r="1.2" fill="#b2102e"/>
<circle cx="482.00" cy="279.70" r="1.2" fill="#b2102e"/>
<circle cx="486.70" cy="278.10" r="1.2" fill="#b2102e"/>
<line x1="477.10" y1="271.70" x2="490.70" y2="271.70" stroke="#3a2a2e" stroke-width="1.0"/>
<polyline points="463.70,287.30 463.70,251.70 483.90,251.70 483.90,256.00" fill="none" stroke="#333" stroke-width="0.9"/>
<text x="473.80" y="251.60" font-size="5.8" text-anchor="middle" fill="#222" font-weight="normal">*</text>
<text x="473.75" y="234.10" font-size="7.6" text-anchor="middle" fill="#222" font-weight="normal" stroke="#222" stroke-width="0.06">Neutrophiles</text>
<text transform="translate(432.60,284.30) rotate(-90)" x="0" y="0" font-size="7.1" text-anchor="middle" fill="#333" font-weight="bold" textLength="42.5" lengthAdjust="spacingAndGlyphs">Freq of CD45 (%)</text>
<line x1="289.70" y1="369.60" x2="289.70" y2="445.10" stroke="#2a2a2a" stroke-width="1.1"/>
<line x1="289.20" y1="444.60" x2="335.80" y2="444.60" stroke="#2a2a2a" stroke-width="1.1"/>
<line x1="287.10" y1="371.50" x2="289.70" y2="371.50" stroke="#2a2a2a" stroke-width="0.9"/>
<text x="284.00" y="373.50" font-size="5.8" text-anchor="end" fill="#333" font-weight="normal">4</text>
<line x1="287.10" y1="389.90" x2="289.70" y2="389.90" stroke="#2a2a2a" stroke-width="0.9"/>
<text x="284.00" y="391.90" font-size="5.8" text-anchor="end" fill="#333" font-weight="normal">3</text>
<line x1="287.10" y1="408.30" x2="289.70" y2="408.30" stroke="#2a2a2a" stroke-width="0.9"/>
<text x="284.00" y="410.30" font-size="5.8" text-anchor="end" fill="#333" font-weight="normal">2</text>
<line x1="287.10" y1="426.30" x2="289.70" y2="426.30" stroke="#2a2a2a" stroke-width="0.9"/>
<text x="284.00" y="428.30" font-size="5.8" text-anchor="end" fill="#333" font-weight="normal">1</text>
<line x1="287.10" y1="444.60" x2="289.70" y2="444.60" stroke="#2a2a2a" stroke-width="0.9"/>
<text x="284.00" y="446.60" font-size="5.8" text-anchor="end" fill="#333" font-weight="normal">0</text>
<line x1="303.00" y1="444.60" x2="303.00" y2="447.40" stroke="#2a2a2a" stroke-width="0.9"/>
<text x="303.00" y="455.50" font-size="5.9" text-anchor="middle" fill="#222" font-weight="normal" stroke="#222" stroke-width="0.15">AA</text>
<line x1="323.50" y1="444.60" x2="323.50" y2="447.40" stroke="#2a2a2a" stroke-width="0.9"/>
<text x="323.50" y="455.50" font-size="5.9" text-anchor="middle" fill="#222" font-weight="normal" stroke="#222" stroke-width="0.15">SS</text>
<circle cx="303.00" cy="386.20" r="1.2" fill="#1a3966"/>
<circle cx="303.00" cy="423.90" r="1.2" fill="#1a3966"/>
<circle cx="303.00" cy="427.00" r="1.2" fill="#1a3966"/>
<circle cx="303.00" cy="430.00" r="1.2" fill="#1a3966"/>
<line x1="296.20" y1="425.00" x2="309.80" y2="425.00" stroke="#1c2a44" stroke-width="1.0"/>
<circle cx="323.50" cy="413.00" r="1.2" fill="#b2102e"/>
<circle cx="323.50" cy="423.40" r="1.2" fill="#b2102e"/>
<circle cx="323.50" cy="434.70" r="1.2" fill="#b2102e"/>
<circle cx="323.50" cy="440.70" r="1.2" fill="#b2102e"/>
<line x1="316.70" y1="428.90" x2="330.30" y2="428.90" stroke="#3a2a2e" stroke-width="1.0"/>
<polyline points="303.00,382.20 303.00,377.90 323.50,377.90 323.50,408.80" fill="none" stroke="#333" stroke-width="0.9"/>
<text x="313.25" y="375.70" font-size="5.4" text-anchor="middle" fill="#222" font-weight="normal">ns</text>
<text x="312.75" y="355.00" font-size="7.6" text-anchor="middle" fill="#222" font-weight="normal" stroke="#222" stroke-width="0.06">Inflammatory</text>
<text x="312.75" y="364.50" font-size="7.6" text-anchor="middle" fill="#222" font-weight="normal" stroke="#222" stroke-width="0.06">monocytes</text>
<text transform="translate(275.10,407.10) rotate(-90)" x="0" y="0" font-size="7.1" text-anchor="middle" fill="#333" font-weight="bold" textLength="42.5" lengthAdjust="spacingAndGlyphs">Freq of CD45 (%)</text>
<line x1="370.20" y1="370.60" x2="370.20" y2="445.20" stroke="#2a2a2a" stroke-width="1.1"/>
<line x1="369.70" y1="444.70" x2="417.00" y2="444.70" stroke="#2a2a2a" stroke-width="1.1"/>
<line x1="367.60" y1="371.80" x2="370.20" y2="371.80" stroke="#2a2a2a" stroke-width="0.9"/>
<text x="364.50" y="373.80" font-size="5.8" text-anchor="end" fill="#333" font-weight="normal">50</text>
<line x1="367.60" y1="386.40" x2="370.20" y2="386.40" stroke="#2a2a2a" stroke-width="0.9"/>
<text x="364.50" y="388.40" font-size="5.8" text-anchor="end" fill="#333" font-weight="normal">40</text>
<line x1="367.60" y1="401.00" x2="370.20" y2="401.00" stroke="#2a2a2a" stroke-width="0.9"/>
<text x="364.50" y="403.00" font-size="5.8" text-anchor="end" fill="#333" font-weight="normal">30</text>
<line x1="367.60" y1="415.50" x2="370.20" y2="415.50" stroke="#2a2a2a" stroke-width="0.9"/>
<text x="364.50" y="417.50" font-size="5.8" text-anchor="end" fill="#333" font-weight="normal">20</text>
<line x1="367.60" y1="430.10" x2="370.20" y2="430.10" stroke="#2a2a2a" stroke-width="0.9"/>
<text x="364.50" y="432.10" font-size="5.8" text-anchor="end" fill="#333" font-weight="normal">10</text>
<line x1="367.60" y1="444.70" x2="370.20" y2="444.70" stroke="#2a2a2a" stroke-width="0.9"/>
<text x="364.50" y="446.70" font-size="5.8" text-anchor="end" fill="#333" font-weight="normal">0</text>
<line x1="383.70" y1="444.70" x2="383.70" y2="447.50" stroke="#2a2a2a" stroke-width="0.9"/>
<text x="383.70" y="455.60" font-size="5.9" text-anchor="middle" fill="#222" font-weight="normal" stroke="#222" stroke-width="0.15">AA</text>
<line x1="403.60" y1="444.70" x2="403.60" y2="447.50" stroke="#2a2a2a" stroke-width="0.9"/>
<text x="403.60" y="455.60" font-size="5.9" text-anchor="middle" fill="#222" font-weight="normal" stroke="#222" stroke-width="0.15">SS</text>
<circle cx="383.70" cy="403.50" r="1.2" fill="#1a3966"/>
<circle cx="383.70" cy="410.90" r="1.2" fill="#1a3966"/>
<circle cx="383.70" cy="415.90" r="1.2" fill="#1a3966"/>
<circle cx="383.70" cy="422.40" r="1.2" fill="#1a3966"/>
<line x1="376.90" y1="414.30" x2="390.50" y2="414.30" stroke="#1c2a44" stroke-width="1.0"/>
<circle cx="403.90" cy="388.60" r="1.2" fill="#b2102e"/>
<circle cx="401.60" cy="400.10" r="1.2" fill="#b2102e"/>
<circle cx="406.20" cy="399.80" r="1.2" fill="#b2102e"/>
<circle cx="403.90" cy="415.90" r="1.2" fill="#b2102e"/>
<circle cx="403.90" cy="431.10" r="1.2" fill="#b2102e"/>
<line x1="396.80" y1="400.50" x2="410.40" y2="400.50" stroke="#3a2a2e" stroke-width="1.0"/>
<polyline points="383.70,399.50 383.70,379.80 403.60,379.80 403.60,384.60" fill="none" stroke="#333" stroke-width="0.9"/>
<text x="393.65" y="377.60" font-size="5.4" text-anchor="middle" fill="#222" font-weight="normal">ns</text>
<text x="393.60" y="355.00" font-size="7.6" text-anchor="middle" fill="#222" font-weight="normal" stroke="#222" stroke-width="0.06">Resident</text>
<text x="393.60" y="364.50" font-size="7.6" text-anchor="middle" fill="#222" font-weight="normal" stroke="#222" stroke-width="0.06">macrophages</text>
<text transform="translate(352.10,407.65) rotate(-90)" x="0" y="0" font-size="7.1" text-anchor="middle" fill="#333" font-weight="bold" textLength="42.5" lengthAdjust="spacingAndGlyphs">Freq of CD45 (%)</text>
<line x1="450.50" y1="370.60" x2="450.50" y2="445.20" stroke="#2a2a2a" stroke-width="1.1"/>
<line x1="450.00" y1="444.70" x2="497.00" y2="444.70" stroke="#2a2a2a" stroke-width="1.1"/>
<line x1="447.90" y1="371.80" x2="450.50" y2="371.80" stroke="#2a2a2a" stroke-width="0.9"/>
<text x="444.80" y="373.80" font-size="5.8" text-anchor="end" fill="#333" font-weight="normal">4</text>
<line x1="447.90" y1="390.20" x2="450.50" y2="390.20" stroke="#2a2a2a" stroke-width="0.9"/>
<text x="444.80" y="392.20" font-size="5.8" text-anchor="end" fill="#333" font-weight="normal">3</text>
<line x1="447.90" y1="408.10" x2="450.50" y2="408.10" stroke="#2a2a2a" stroke-width="0.9"/>
<text x="444.80" y="410.10" font-size="5.8" text-anchor="end" fill="#333" font-weight="normal">2</text>
<line x1="447.90" y1="426.30" x2="450.50" y2="426.30" stroke="#2a2a2a" stroke-width="0.9"/>
<text x="444.80" y="428.30" font-size="5.8" text-anchor="end" fill="#333" font-weight="normal">1</text>
<line x1="447.90" y1="444.70" x2="450.50" y2="444.70" stroke="#2a2a2a" stroke-width="0.9"/>
<text x="444.80" y="446.70" font-size="5.8" text-anchor="end" fill="#333" font-weight="normal">0</text>
<line x1="463.70" y1="444.70" x2="463.70" y2="447.50" stroke="#2a2a2a" stroke-width="0.9"/>
<text x="463.70" y="455.60" font-size="5.9" text-anchor="middle" fill="#222" font-weight="normal" stroke="#222" stroke-width="0.15">AA</text>
<line x1="483.90" y1="444.70" x2="483.90" y2="447.50" stroke="#2a2a2a" stroke-width="0.9"/>
<text x="483.90" y="455.60" font-size="5.9" text-anchor="middle" fill="#222" font-weight="normal" stroke="#222" stroke-width="0.15">SS</text>
<circle cx="463.70" cy="409.00" r="1.2" fill="#1a3966"/>
<circle cx="463.70" cy="422.80" r="1.2" fill="#1a3966"/>
<circle cx="463.70" cy="428.10" r="1.2" fill="#1a3966"/>
<circle cx="463.70" cy="437.80" r="1.2" fill="#1a3966"/>
<line x1="456.90" y1="425.30" x2="470.50" y2="425.30" stroke="#1c2a44" stroke-width="1.0"/>
<circle cx="483.90" cy="388.60" r="1.2" fill="#b2102e"/>
<circle cx="483.90" cy="403.50" r="1.2" fill="#b2102e"/>
<circle cx="483.90" cy="406.50" r="1.2" fill="#b2102e"/>
<circle cx="483.90" cy="421.20" r="1.2" fill="#b2102e"/>
<circle cx="483.90" cy="428.80" r="1.2" fill="#b2102e"/>
<line x1="477.10" y1="406.30" x2="490.70" y2="406.30" stroke="#3a2a2e" stroke-width="1.0"/>
<polyline points="463.70,405.00 463.70,380.30 483.90,380.30 483.90,384.60" fill="none" stroke="#333" stroke-width="0.9"/>
<text x="473.80" y="378.10" font-size="5.4" text-anchor="middle" fill="#222" font-weight="normal">ns</text>
<text x="473.75" y="364.50" font-size="7.6" text-anchor="middle" fill="#222" font-weight="normal" stroke="#222" stroke-width="0.06">Neutrophils</text>
<text transform="translate(436.30,407.65) rotate(-90)" x="0" y="0" font-size="7.1" text-anchor="middle" fill="#333" font-weight="bold" textLength="42.5" lengthAdjust="spacingAndGlyphs">Freq of CD45 (%)</text>
<rect x="0.5" y="0.5" width="519" height="564" fill="none" stroke="#686868" stroke-width="1"/>
</svg>
</body></html>
